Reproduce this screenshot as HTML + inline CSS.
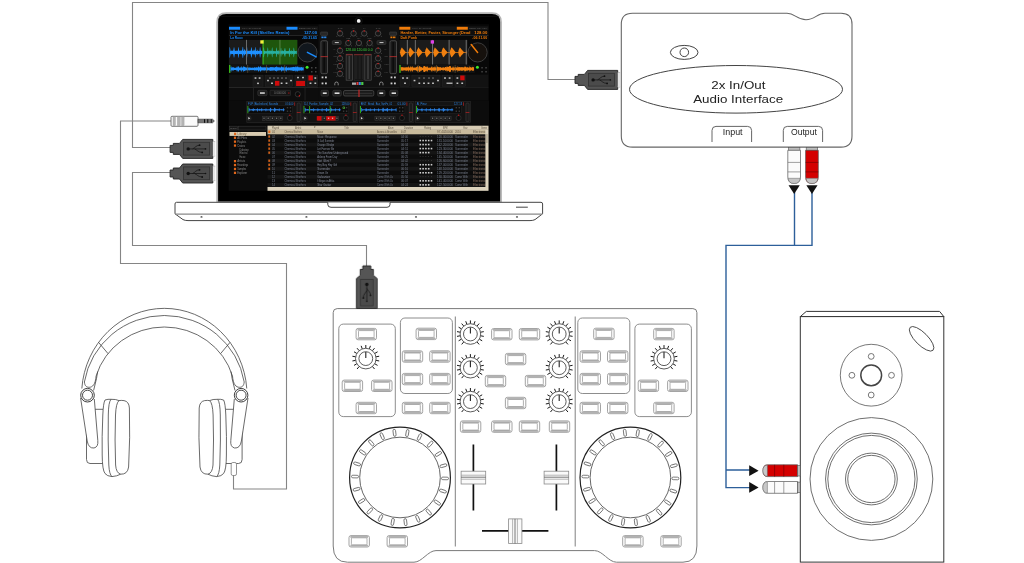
<!DOCTYPE html>
<html><head><meta charset="utf-8"><title>DJ setup diagram</title>
<style>html,body{margin:0;padding:0;background:#fff;width:1024px;height:563px;overflow:hidden;font-family:"Liberation Sans",sans-serif}svg{display:block;will-change:transform}</style>
</head><body>
<svg width="1024" height="563" viewBox="0 0 1024 563" font-family="Liberation Sans, sans-serif"><path d="M171,147.5 H132.5 V2.5 H548 V79.5 H576" fill="none" stroke="#858585" stroke-width="1.1"/><path d="M171,172.5 H132.5 V245.5 H366.5 V267" fill="none" stroke="#858585" stroke-width="1.1"/><path d="M172,121 H120.5 V263.5 H286.5 V489 H233.5 V475" fill="none" stroke="#858585" stroke-width="1.1"/><path d="M794.5,192 V245.4 M812,192 V245.4 H726 V487.6 H750 M726,470 H750" fill="none" stroke="#2d5f9a" stroke-width="1.4"/><path d="M217.2,202.4 V22.2 Q217.2,13.2 226.2,13.2 H492 Q501,13.2 501,22.2 V202.4 Z" fill="#000" stroke="#b4b4b4" stroke-width="1.8"/><circle cx="358.7" cy="20.9" r="3.6" fill="none" stroke="#1c1c1c" stroke-width="0.6"/><circle cx="358.7" cy="20.9" r="1.9" fill="#f4f4f4"/><line x1="219" y1="16.4" x2="499" y2="16.4" stroke="#151515" stroke-width="0.6"/><path d="M176.5,202.3 H541 Q542.6,202.3 542.6,204 V213.8 L535,219.6 Q533,220.6 530,220.6 H188 Q185,220.6 183,219.6 L175,213.8 V204 Q175,202.3 176.5,202.3 Z" fill="#fff" stroke="#444" stroke-width="1"/><line x1="175.5" y1="214.1" x2="542.2" y2="214.1" stroke="#888" stroke-width="1.4"/><path d="M327.8,202.5 V204.5 Q327.8,207.3 331,207.3 H387 Q390,207.3 390,204.5 V202.5" fill="#fff" stroke="#333" stroke-width="0.9"/><line x1="516" y1="207.2" x2="527.8" y2="207.2" stroke="#555" stroke-width="1.1"/><ellipse cx="201.5" cy="216.9" rx="1.1" ry="0.7" fill="#222"/><ellipse cx="306.4" cy="216.9" rx="1.1" ry="0.7" fill="#222"/><ellipse cx="416" cy="216.9" rx="1.1" ry="0.7" fill="#222"/><ellipse cx="517" cy="216.9" rx="1.1" ry="0.7" fill="#222"/><rect x="228.6" y="24.2" width="260.4" height="166.6" fill="#080808"/><rect x="229" y="26.3" width="89" height="3.8" fill="#151515"/><rect x="229" y="26.8" width="11" height="2.9" fill="#1a8cff"/><text x="242" y="29.3" font-size="2.3" fill="#8a8a8a" textLength="19" lengthAdjust="spacingAndGlyphs" opacity="0.6">MIX    SAMPLE</text><rect x="286.5" y="26.8" width="11" height="2.9" fill="#1a8cff"/><text x="299" y="29.3" font-size="2.3" fill="#8a8a8a" textLength="18" lengthAdjust="spacingAndGlyphs" opacity="0.6">BEND    KEY    KEY</text><rect x="229" y="30.2" width="89" height="5" fill="#0e0e0e"/><text x="230.2" y="33.6" font-size="3.9" fill="#1a8cff" textLength="59.3" lengthAdjust="spacingAndGlyphs" font-weight="bold">In For the Kill (Skrillex Remix)</text><text x="317" y="33.6" font-size="3.9" fill="#1a8cff" textLength="13" lengthAdjust="spacingAndGlyphs" text-anchor="end" font-weight="bold">127.00</text><rect x="229" y="35.1" width="89" height="0.6" fill="#3a3a3a"/><text x="230.2" y="38.8" font-size="3.6" fill="#1a8cff" textLength="12.6" lengthAdjust="spacingAndGlyphs" font-weight="bold">La Roux</text><text x="317" y="38.8" font-size="3.6" fill="#1a8cff" textLength="15" lengthAdjust="spacingAndGlyphs" text-anchor="end" font-weight="bold">-05:31.65</text><rect x="229" y="39.9" width="68.3" height="24.7" fill="#1b1b1b"/><rect x="262.8" y="39.9" width="34.5" height="24.7" fill="#1e560c"/><path d="M229.5,47.18 L229.9,47.13 L230.3,49.32 L230.7,51.16 L231.1,50.99 L231.5,50.5 L231.9,50.61 L232.3,50.74 L232.7,50.74 L233.1,50.82 L233.5,49.32 L233.9,47.14 L234.3,47.61 L234.7,50.59 L235.1,50.68 L235.5,50.69 L235.9,50.9 L236.3,50.87 L236.7,50.58 L237.1,51.08 L237.5,50.52 L237.9,50.75 L238.3,47.32 L238.7,47.15 L239.1,50.78 L239.5,50.71 L239.9,50.59 L240.3,50.72 L240.7,50.59 L241.1,50.56 L241.5,50.69 L241.9,50.61 L242.3,49.32 L242.7,46.81 L243.1,46.97 L243.5,50.89 L243.9,50.97 L244.3,49.32 L244.7,49.32 L245.1,50.69 L245.5,50.58 L245.9,50.83 L246.3,49.32 L246.7,47.61 L247.1,47.3 L247.5,50.76 L247.9,51.14 L248.3,50.96 L248.7,50.57 L249.1,50.86 L249.5,50.74 L249.9,50.79 L250.3,50.54 L250.7,50.88 L251.1,47.39 L251.5,47.2 L251.9,49.32 L252.3,50.89 L252.7,51.15 L253.1,49.32 L253.5,50.75 L253.9,50.71 L254.3,50.69 L254.7,49.32 L255.1,50.71 L255.5,47.26 L255.9,47.37 L256.3,50.92 L256.7,50.92 L257.1,50.97 L257.5,49.32 L257.9,50.79 L258.3,50.96 L258.7,50.63 L259.1,51.04 L259.5,50.7 L259.9,47.36 L260.3,47.27 L260.7,50.59 L261.1,50.94 L261.5,50.57 L261.9,51.02 L262.3,50.81 L262.3,53.99 L261.9,53.78 L261.5,54.23 L261.1,53.86 L260.7,54.21 L260.3,57.53 L259.9,57.44 L259.5,54.1 L259.1,53.76 L258.7,54.17 L258.3,53.84 L257.9,54.01 L257.5,55.48 L257.1,53.83 L256.7,53.88 L256.3,53.88 L255.9,57.43 L255.5,57.54 L255.1,54.09 L254.7,55.48 L254.3,54.11 L253.9,54.09 L253.5,54.05 L253.1,55.48 L252.7,53.65 L252.3,53.91 L251.9,55.48 L251.5,57.6 L251.1,57.41 L250.7,53.92 L250.3,54.26 L249.9,54.01 L249.5,54.06 L249.1,53.94 L248.7,54.23 L248.3,53.84 L247.9,53.66 L247.5,54.04 L247.1,57.5 L246.7,57.19 L246.3,55.48 L245.9,53.97 L245.5,54.22 L245.1,54.11 L244.7,55.48 L244.3,55.48 L243.9,53.83 L243.5,53.91 L243.1,57.83 L242.7,57.99 L242.3,55.48 L241.9,54.19 L241.5,54.11 L241.1,54.24 L240.7,54.21 L240.3,54.08 L239.9,54.21 L239.5,54.09 L239.1,54.02 L238.7,57.65 L238.3,57.48 L237.9,54.05 L237.5,54.28 L237.1,53.72 L236.7,54.22 L236.3,53.93 L235.9,53.9 L235.5,54.11 L235.1,54.12 L234.7,54.21 L234.3,57.19 L233.9,57.66 L233.5,55.48 L233.1,53.98 L232.7,54.06 L232.3,54.06 L231.9,54.19 L231.5,54.3 L231.1,53.81 L230.7,53.64 L230.3,55.48 L229.9,57.67 L229.5,57.62 Z" fill="#1e90ff"/><path d="M263.2,47.43 L263.6,47.62 L264,47.96 L264.4,50.7 L264.8,50.91 L265.2,51.03 L265.6,51.18 L266,51.25 L266.4,51.29 L266.8,51.06 L267.2,51.07 L267.6,47.41 L268,47.68 L268.4,51.07 L268.8,51.1 L269.2,51 L269.6,50.76 L270,49.65 L270.4,50.73 L270.8,51.18 L271.2,50.95 L271.6,50.77 L272,47.49 L272.4,47.58 L272.8,51.24 L273.2,50.88 L273.6,50.79 L274,51.18 L274.4,50.98 L274.8,51.26 L275.2,51 L275.6,51.17 L276,51.29 L276.4,47.83 L276.8,47.52 L277.2,50.77 L277.6,51.06 L278,50.9 L278.4,51.18 L278.8,49.65 L279.2,50.84 L279.6,51.2 L280,51.16 L280.4,51.03 L280.8,47.93 L281.2,48.09 L281.6,51.24 L282,51.08 L282.4,51 L282.8,49.65 L283.2,51.29 L283.6,51.07 L284,50.85 L284.4,49.65 L284.8,47.99 L285.2,48.13 L285.6,50.72 L286,50.71 L286.4,51.19 L286.8,51.04 L287.2,50.94 L287.6,51.02 L288,51.23 L288.4,51.03 L288.8,51.04 L289.2,47.8 L289.6,47.88 L290,51.16 L290.4,51.03 L290.8,50.86 L291.2,49.65 L291.6,51.08 L292,51.24 L292.4,50.85 L292.8,50.88 L293.2,51.16 L293.6,47.66 L294,47.69 L294.4,50.75 L294.8,50.74 L295.2,51.17 L295.6,50.97 L296,51.08 L296.4,50.79 L296.8,50.92 L296.8,53.88 L296.4,54.01 L296,53.72 L295.6,53.83 L295.2,53.63 L294.8,54.06 L294.4,54.05 L294,57.11 L293.6,57.14 L293.2,53.64 L292.8,53.92 L292.4,53.95 L292,53.56 L291.6,53.72 L291.2,55.15 L290.8,53.94 L290.4,53.77 L290,53.64 L289.6,56.92 L289.2,57 L288.8,53.76 L288.4,53.77 L288,53.57 L287.6,53.78 L287.2,53.86 L286.8,53.76 L286.4,53.61 L286,54.09 L285.6,54.08 L285.2,56.67 L284.8,56.81 L284.4,55.15 L284,53.95 L283.6,53.73 L283.2,53.51 L282.8,55.15 L282.4,53.8 L282,53.72 L281.6,53.56 L281.2,56.71 L280.8,56.87 L280.4,53.77 L280,53.64 L279.6,53.6 L279.2,53.96 L278.8,55.15 L278.4,53.62 L278,53.9 L277.6,53.74 L277.2,54.03 L276.8,57.28 L276.4,56.97 L276,53.51 L275.6,53.63 L275.2,53.8 L274.8,53.54 L274.4,53.82 L274,53.62 L273.6,54.01 L273.2,53.92 L272.8,53.56 L272.4,57.22 L272,57.31 L271.6,54.03 L271.2,53.85 L270.8,53.62 L270.4,54.07 L270,55.15 L269.6,54.04 L269.2,53.8 L268.8,53.7 L268.4,53.73 L268,57.12 L267.6,57.39 L267.2,53.73 L266.8,53.74 L266.4,53.51 L266,53.55 L265.6,53.62 L265.2,53.77 L264.8,53.89 L264.4,54.1 L264,56.84 L263.6,57.18 L263.2,57.37 Z" fill="#27b0a0"/><rect x="246" y="39.9" width="0.9" height="24.7" fill="#777"/><rect x="262.6" y="39.9" width="0.9" height="24.7" fill="#3ccf1c"/><rect x="279.5" y="39.9" width="0.9" height="24.7" fill="#5c8c4c"/><rect x="260.3" y="40.3" width="3.3" height="3.3" fill="#f2f23a"/><circle cx="307.4" cy="52.4" r="9.6" fill="#11171d" stroke="#3c3c3c" stroke-width="1"/><line x1="307.4" y1="52.4" x2="316.2" y2="56.8" stroke="#1a8cff" stroke-width="1.5" stroke-linecap="round"/><rect x="229" y="64.9" width="75.5" height="8" fill="#131313"/><rect x="229" y="64.9" width="1.4" height="8" fill="#39b81a"/><path d="M230.5,67.35 L231.1,65.9 L231.7,67.84 L232.3,67.56 L232.9,67.12 L233.5,67.26 L234.1,67.7 L234.7,67.68 L235.3,67.79 L235.9,67.77 L236.5,67.5 L237.1,65.9 L237.7,67.79 L238.3,65.9 L238.9,66.81 L239.5,67.73 L240.1,67.71 L240.7,67.2 L241.3,65.9 L241.9,67.67 L242.5,67.43 L243.1,67.22 L243.7,65.9 L244.3,67.09 L244.9,66.82 L245.5,67.48 L246.1,67.13 L246.7,67.73 L247.3,67.47 L247.9,67 L248.5,67.82 L249.1,67.4 L249.7,67.62 L250.3,67.44 L250.9,67.74 L251.5,67.66 L252.1,67.81 L252.7,67.49 L253.3,67.8 L253.9,67.63 L254.5,67.35 L255.1,67.34 L255.7,67.67 L256.3,67.47 L256.9,67.06 L257.5,67.84 L258.1,67.04 L258.7,65.9 L259.3,67.81 L259.9,66.82 L260.5,65.9 L261.1,67.51 L261.7,66.98 L262.3,67.61 L262.9,67.35 L263.5,67.57 L264.1,66.91 L264.7,67.54 L265.3,67.56 L265.9,67.31 L266.5,67.11 L267.1,67.55 L267.7,67.13 L268.3,67.71 L268.9,67.41 L269.5,67.39 L270.1,67.26 L270.7,66.88 L271.3,67.05 L271.9,67.23 L272.5,67.02 L273.1,67.49 L273.7,67.08 L274.3,67.83 L274.9,66.9 L275.5,66.91 L276.1,67.29 L276.7,65.9 L277.3,67.48 L277.9,66.87 L278.5,67.28 L279.1,67.72 L279.7,67.11 L280.3,67.59 L280.9,67.51 L281.5,65.9 L282.1,67.52 L282.7,67.05 L283.3,66.87 L283.9,67.82 L284.5,67.38 L285.1,67.15 L285.7,67.6 L286.3,65.9 L286.9,67.47 L287.5,67.64 L288.1,67.62 L288.7,67.32 L289.3,67.68 L289.9,67.21 L290.5,67.59 L291.1,66.95 L291.7,67.61 L292.3,67.05 L292.9,67.14 L293.5,66.83 L294.1,67.14 L294.7,67.08 L295.3,67.33 L295.9,65.9 L296.5,67.61 L297.1,65.9 L297.7,67.01 L298.3,66.87 L298.9,67.44 L299.5,66.91 L300.1,67.72 L300.7,66.97 L301.3,67.03 L301.9,67.2 L302.5,67.42 L303.1,67.45 L303.7,67 L303.7,70.8 L303.1,70.35 L302.5,70.38 L301.9,70.6 L301.3,70.77 L300.7,70.83 L300.1,70.08 L299.5,70.89 L298.9,70.36 L298.3,70.93 L297.7,70.79 L297.1,71.9 L296.5,70.19 L295.9,71.9 L295.3,70.47 L294.7,70.72 L294.1,70.66 L293.5,70.97 L292.9,70.66 L292.3,70.75 L291.7,70.19 L291.1,70.85 L290.5,70.21 L289.9,70.59 L289.3,70.12 L288.7,70.48 L288.1,70.18 L287.5,70.16 L286.9,70.33 L286.3,71.9 L285.7,70.2 L285.1,70.65 L284.5,70.42 L283.9,69.98 L283.3,70.93 L282.7,70.75 L282.1,70.28 L281.5,71.9 L280.9,70.29 L280.3,70.21 L279.7,70.69 L279.1,70.08 L278.5,70.52 L277.9,70.93 L277.3,70.32 L276.7,71.9 L276.1,70.51 L275.5,70.89 L274.9,70.9 L274.3,69.97 L273.7,70.72 L273.1,70.31 L272.5,70.78 L271.9,70.57 L271.3,70.75 L270.7,70.92 L270.1,70.54 L269.5,70.41 L268.9,70.39 L268.3,70.09 L267.7,70.67 L267.1,70.25 L266.5,70.69 L265.9,70.49 L265.3,70.24 L264.7,70.26 L264.1,70.89 L263.5,70.23 L262.9,70.45 L262.3,70.19 L261.7,70.82 L261.1,70.29 L260.5,71.9 L259.9,70.98 L259.3,69.99 L258.7,71.9 L258.1,70.76 L257.5,69.96 L256.9,70.74 L256.3,70.33 L255.7,70.13 L255.1,70.46 L254.5,70.45 L253.9,70.17 L253.3,70 L252.7,70.31 L252.1,69.99 L251.5,70.14 L250.9,70.06 L250.3,70.36 L249.7,70.18 L249.1,70.4 L248.5,69.98 L247.9,70.8 L247.3,70.33 L246.7,70.07 L246.1,70.67 L245.5,70.32 L244.9,70.98 L244.3,70.71 L243.7,71.9 L243.1,70.58 L242.5,70.37 L241.9,70.13 L241.3,71.9 L240.7,70.6 L240.1,70.09 L239.5,70.07 L238.9,70.99 L238.3,71.9 L237.7,70.01 L237.1,71.9 L236.5,70.3 L235.9,70.03 L235.3,70.01 L234.7,70.12 L234.1,70.1 L233.5,70.54 L232.9,70.68 L232.3,70.24 L231.7,69.96 L231.1,71.9 L230.5,70.45 Z" fill="#1e90ff"/><rect x="247.5" y="64.9" width="0.6" height="8" fill="#6a5a3a"/><rect x="266" y="64.9" width="0.6" height="8" fill="#6a5a3a"/><rect x="284.5" y="64.9" width="0.6" height="8" fill="#6a5a3a"/><circle cx="307.1" cy="67.2" r="1.5" fill="#3ee82a"/><rect x="311" y="67" width="1.5" height="1.5" fill="#444"/><rect x="315" y="67" width="1.5" height="1.5" fill="#444"/><rect x="311" y="71" width="1.5" height="1.5" fill="#444"/><rect x="315" y="71" width="1.5" height="1.5" fill="#444"/><rect x="229" y="74.6" width="89" height="12.4" fill="#121212"/><rect x="253" y="75.2" width="10" height="11" fill="#191919" stroke="#262626" stroke-width="0.5"/><rect x="265.7" y="75.2" width="22.6" height="11" fill="#191919" stroke="#262626" stroke-width="0.5"/><rect x="289.6" y="75.2" width="3" height="11" fill="#191919" stroke="#262626" stroke-width="0.5"/><rect x="295" y="75.2" width="11" height="11" fill="#191919" stroke="#262626" stroke-width="0.5"/><rect x="307.4" y="75.2" width="10" height="11" fill="#191919" stroke="#262626" stroke-width="0.5"/><rect x="254.6" y="77.3" width="1.8" height="1.5" fill="#c4c4c4"/><rect x="258.7" y="77.3" width="1.8" height="1.5" fill="#c4c4c4"/><rect x="257.1" y="82.6" width="1.8" height="1.5" fill="#c4c4c4"/><rect x="271.1" y="82.5" width="1.8" height="1.5" fill="#c4c4c4"/><rect x="280.7" y="82.5" width="1.8" height="1.5" fill="#c4c4c4"/><rect x="285.6" y="82.5" width="1.8" height="1.5" fill="#c4c4c4"/><rect x="290.1" y="79.8" width="1.8" height="1.5" fill="#c4c4c4"/><rect x="297.1" y="76.8" width="1.8" height="1.5" fill="#c4c4c4"/><rect x="302.1" y="76.8" width="1.8" height="1.5" fill="#c4c4c4"/><rect x="314.4" y="77.3" width="1.8" height="1.5" fill="#c4c4c4"/><rect x="309.6" y="82.5" width="1.8" height="1.5" fill="#c4c4c4"/><rect x="314.4" y="82.5" width="1.8" height="1.5" fill="#c4c4c4"/><rect x="267.1" y="79.8" width="1.8" height="1.5" fill="#c4c4c4"/><rect x="269.1" y="77.4" width="1.8" height="1.3" fill="#6a6a6a"/><rect x="273.1" y="77.4" width="1.8" height="1.3" fill="#6a6a6a"/><rect x="277.1" y="77.4" width="1.8" height="1.3" fill="#6a6a6a"/><rect x="281.1" y="77.4" width="1.8" height="1.3" fill="#6a6a6a"/><rect x="285.1" y="77.4" width="1.8" height="1.3" fill="#6a6a6a"/><rect x="275" y="80.9" width="4.4" height="4.8" fill="#cf0b0b"/><rect x="296.1" y="80.9" width="8.9" height="5.1" fill="#cf0b0b"/><rect x="308.4" y="75.4" width="4.5" height="5.1" fill="#cf0b0b"/><rect x="229" y="87" width="89" height="0.7" fill="#2c2c2c"/><rect x="229" y="87.7" width="89" height="13" fill="#0d0d0d"/><rect x="253.2" y="87.7" width="0.7" height="13" fill="#2a2a2a"/><rect x="257.8" y="90.3" width="9.2" height="5.4" rx="1.2" fill="#1e1e1e" stroke="#3a3a3a" stroke-width="0.6"/><rect x="260" y="92.3" width="4.8" height="1.5" fill="#ddd"/><rect x="270" y="90.3" width="20.5" height="5.4" rx="0.8" fill="#151515" stroke="#333" stroke-width="0.6"/><text x="274" y="94.3" font-size="2.8" fill="#777" textLength="12" lengthAdjust="spacingAndGlyphs">0.000000</text><rect x="288.5" y="92.3" width="0.8" height="1.5" fill="#c11"/><circle cx="297.8" cy="94.2" r="2.6" fill="#0b0b0b" stroke="#444" stroke-width="0.6"/><rect x="298.8" y="95.2" width="1.2" height="1.2" fill="#e01010"/><rect x="304.7" y="87.7" width="0.7" height="13" fill="#2a2a2a"/><rect x="399.3" y="26.3" width="89" height="3.8" fill="#151515"/><rect x="399.3" y="26.8" width="11" height="2.9" fill="#f07c0a"/><text x="412.3" y="29.3" font-size="2.3" fill="#8a8a8a" textLength="19" lengthAdjust="spacingAndGlyphs" opacity="0.6">MIX    SAMPLE</text><rect x="456.8" y="26.8" width="11" height="2.9" fill="#f07c0a"/><text x="469.3" y="29.3" font-size="2.3" fill="#8a8a8a" textLength="18" lengthAdjust="spacingAndGlyphs" opacity="0.6">BEND    KEY    KEY</text><rect x="399.3" y="30.2" width="89" height="5" fill="#0e0e0e"/><text x="400.5" y="33.6" font-size="3.9" fill="#f07c0a" textLength="70" lengthAdjust="spacingAndGlyphs" font-weight="bold">Harder, Better, Faster, Stronger (Dead</text><text x="487.3" y="33.6" font-size="3.9" fill="#f07c0a" textLength="13" lengthAdjust="spacingAndGlyphs" text-anchor="end" font-weight="bold">128.00</text><rect x="399.3" y="35.1" width="89" height="0.6" fill="#3a3a3a"/><text x="400.5" y="38.8" font-size="3.6" fill="#f07c0a" textLength="16.5" lengthAdjust="spacingAndGlyphs" font-weight="bold">Daft Punk</text><text x="487.3" y="38.8" font-size="3.6" fill="#f07c0a" textLength="15" lengthAdjust="spacingAndGlyphs" text-anchor="end" font-weight="bold">-06:11.00</text><rect x="399.3" y="39.9" width="68.3" height="24.7" fill="#1b1b1b"/><path d="M399.8,51.99 L400.1,51.99 L400.4,50.31 L400.7,49.68 L401,48.96 L401.3,48.23 L401.6,47.68 L401.9,47.54 L402.2,47.85 L402.5,48.14 L402.8,48.72 L403.1,49 L403.4,49.4 L403.7,49.57 L404,49.95 L404.3,50.42 L404.6,50.62 L404.9,50.99 L405.2,51.38 L405.5,51.73 L405.8,52.1 L406.1,52.01 L406.4,51.99 L406.7,52.01 L407,52 L407.3,52 L407.6,52.01 L407.9,51.99 L408.2,51.99 L408.5,51.98 L408.8,50.14 L409.1,49.4 L409.4,48.73 L409.7,47.96 L410,47.33 L410.3,47.75 L410.6,47.83 L410.9,48.19 L411.2,48.61 L411.5,49 L411.8,49.45 L412.1,49.82 L412.4,50.15 L412.7,50.53 L413,50.77 L413.3,51.17 L413.6,51.48 L413.9,51.86 L414.2,51.98 L414.5,51.98 L414.8,52.01 L415.1,52 L415.4,51.98 L415.7,51.99 L416,51.98 L416.3,52 L416.6,52.01 L416.9,50.6 L417.2,49.85 L417.5,49.26 L417.8,48.63 L418.1,47.85 L418.4,47.24 L418.7,47.68 L419,48.26 L419.3,48.56 L419.6,48.95 L419.9,49.29 L420.2,49.45 L420.5,49.94 L420.8,50.21 L421.1,50.58 L421.4,50.96 L421.7,51.25 L422,51.65 L422.3,51.97 L422.6,52.01 L422.9,52 L423.2,52 L423.5,52 L423.8,51.98 L424.1,51.98 L424.4,52 L424.7,51.98 L425,52 L425.3,50.4 L425.6,49.59 L425.9,48.93 L426.2,48.39 L426.5,47.35 L426.8,47.66 L427.1,47.99 L427.4,48.15 L427.7,48.65 L428,49 L428.3,49.4 L428.6,49.74 L428.9,49.97 L429.2,50.38 L429.5,50.68 L429.8,51.05 L430.1,51.39 L430.4,51.71 L430.7,52.09 L431,51.99 L431.3,51.98 L431.6,52 L431.9,52 L432.2,51.98 L432.5,51.98 L432.8,52 L433.1,52 L433.4,51.98 L433.7,50.06 L434,49.51 L434.3,48.59 L434.6,47.88 L434.9,47.27 L435.2,47.69 L435.5,48.16 L435.8,48.52 L436.1,48.57 L436.4,49.13 L436.7,49.36 L437,49.81 L437.3,50.05 L437.6,50.44 L437.9,50.83 L438.2,51.19 L438.5,51.49 L438.8,51.87 L439.1,52 L439.4,51.99 L439.7,51.98 L440,51.99 L440.3,52 L440.6,51.98 L440.9,52 L441.2,52.01 L441.5,52 L441.8,50.63 L442.1,50 L442.4,49.29 L442.7,48.54 L443,47.76 L443.3,47.58 L443.6,47.83 L443.9,47.99 L444.2,48.32 L444.5,48.78 L444.8,49.12 L445.1,49.5 L445.4,49.95 L445.7,50.31 L446,50.65 L446.3,50.87 L446.6,51.25 L446.9,51.59 L447.2,51.99 L447.5,51.99 L447.8,51.99 L448.1,51.99 L448.4,52 L448.7,51.98 L449,52.01 L449.3,51.99 L449.6,51.98 L449.9,51.98 L450.2,50.34 L450.5,49.63 L450.8,48.88 L451.1,48.11 L451.4,47.61 L451.7,47.47 L452,47.74 L452.3,48.12 L452.6,48.62 L452.9,48.86 L453.2,49.2 L453.5,49.62 L453.8,49.97 L454.1,50.36 L454.4,50.68 L454.7,51.03 L455,51.42 L455.3,51.73 L455.6,52.07 L455.9,51.98 L456.2,51.99 L456.5,52 L456.8,51.98 L457.1,51.99 L457.4,51.99 L457.7,51.98 L458,52.01 L458.3,51.98 L458.6,50.24 L458.9,49.41 L459.2,48.74 L459.5,48.12 L459.8,47.23 L460.1,47.66 L460.4,47.97 L460.7,48.22 L461,48.78 L461.3,49.2 L461.6,49.46 L461.9,49.72 L462.2,50.16 L462.5,50.51 L462.8,50.75 L463.1,51.14 L463.4,51.51 L463.7,51.84 L464,52 L464.3,51.99 L464.6,52 L464.9,52 L465.2,51.98 L465.5,51.98 L465.8,51.98 L466.1,52 L466.4,51.99 L466.7,50.65 L467,49.99 L467,54.81 L466.7,54.15 L466.4,52.81 L466.1,52.8 L465.8,52.82 L465.5,52.82 L465.2,52.82 L464.9,52.8 L464.6,52.8 L464.3,52.81 L464,52.8 L463.7,52.96 L463.4,53.29 L463.1,53.66 L462.8,54.05 L462.5,54.29 L462.2,54.64 L461.9,55.08 L461.6,55.34 L461.3,55.6 L461,56.02 L460.7,56.58 L460.4,56.83 L460.1,57.14 L459.8,57.57 L459.5,56.68 L459.2,56.06 L458.9,55.39 L458.6,54.56 L458.3,52.82 L458,52.79 L457.7,52.82 L457.4,52.81 L457.1,52.81 L456.8,52.82 L456.5,52.8 L456.2,52.81 L455.9,52.82 L455.6,52.73 L455.3,53.07 L455,53.38 L454.7,53.77 L454.4,54.12 L454.1,54.44 L453.8,54.83 L453.5,55.18 L453.2,55.6 L452.9,55.94 L452.6,56.18 L452.3,56.68 L452,57.06 L451.7,57.33 L451.4,57.19 L451.1,56.69 L450.8,55.92 L450.5,55.17 L450.2,54.46 L449.9,52.82 L449.6,52.82 L449.3,52.81 L449,52.79 L448.7,52.82 L448.4,52.8 L448.1,52.81 L447.8,52.81 L447.5,52.81 L447.2,52.81 L446.9,53.21 L446.6,53.55 L446.3,53.93 L446,54.15 L445.7,54.49 L445.4,54.85 L445.1,55.3 L444.8,55.68 L444.5,56.02 L444.2,56.48 L443.9,56.81 L443.6,56.97 L443.3,57.22 L443,57.04 L442.7,56.26 L442.4,55.51 L442.1,54.8 L441.8,54.17 L441.5,52.8 L441.2,52.79 L440.9,52.8 L440.6,52.82 L440.3,52.8 L440,52.81 L439.7,52.82 L439.4,52.81 L439.1,52.8 L438.8,52.93 L438.5,53.31 L438.2,53.61 L437.9,53.97 L437.6,54.36 L437.3,54.75 L437,54.99 L436.7,55.44 L436.4,55.67 L436.1,56.23 L435.8,56.28 L435.5,56.64 L435.2,57.11 L434.9,57.53 L434.6,56.92 L434.3,56.21 L434,55.29 L433.7,54.74 L433.4,52.82 L433.1,52.8 L432.8,52.8 L432.5,52.82 L432.2,52.82 L431.9,52.8 L431.6,52.8 L431.3,52.82 L431,52.81 L430.7,52.71 L430.4,53.09 L430.1,53.41 L429.8,53.75 L429.5,54.12 L429.2,54.42 L428.9,54.83 L428.6,55.06 L428.3,55.4 L428,55.8 L427.7,56.15 L427.4,56.65 L427.1,56.81 L426.8,57.14 L426.5,57.45 L426.2,56.41 L425.9,55.87 L425.6,55.21 L425.3,54.4 L425,52.8 L424.7,52.82 L424.4,52.8 L424.1,52.82 L423.8,52.82 L423.5,52.8 L423.2,52.8 L422.9,52.8 L422.6,52.79 L422.3,52.83 L422,53.15 L421.7,53.55 L421.4,53.84 L421.1,54.22 L420.8,54.59 L420.5,54.86 L420.2,55.35 L419.9,55.51 L419.6,55.85 L419.3,56.24 L419,56.54 L418.7,57.12 L418.4,57.56 L418.1,56.95 L417.8,56.17 L417.5,55.54 L417.2,54.95 L416.9,54.2 L416.6,52.79 L416.3,52.8 L416,52.82 L415.7,52.81 L415.4,52.82 L415.1,52.8 L414.8,52.79 L414.5,52.82 L414.2,52.82 L413.9,52.94 L413.6,53.32 L413.3,53.63 L413,54.03 L412.7,54.27 L412.4,54.65 L412.1,54.98 L411.8,55.35 L411.5,55.8 L411.2,56.19 L410.9,56.61 L410.6,56.97 L410.3,57.05 L410,57.47 L409.7,56.84 L409.4,56.07 L409.1,55.4 L408.8,54.66 L408.5,52.82 L408.2,52.81 L407.9,52.81 L407.6,52.79 L407.3,52.8 L407,52.8 L406.7,52.79 L406.4,52.81 L406.1,52.79 L405.8,52.7 L405.5,53.07 L405.2,53.42 L404.9,53.81 L404.6,54.18 L404.3,54.38 L404,54.85 L403.7,55.23 L403.4,55.4 L403.1,55.8 L402.8,56.08 L402.5,56.66 L402.2,56.95 L401.9,57.26 L401.6,57.12 L401.3,56.57 L401,55.84 L400.7,55.12 L400.4,54.49 L400.1,52.81 L399.8,52.81 Z" fill="#f08010"/><rect x="406.85" y="39.9" width="0.9" height="24.7" fill="#7a7a7a"/><rect x="414.85" y="39.9" width="0.9" height="24.7" fill="#7a7a7a"/><rect x="432.15" y="39.9" width="0.9" height="24.7" fill="#7a7a7a"/><rect x="448.65" y="39.9" width="0.9" height="24.7" fill="#7a7a7a"/><rect x="465.75" y="39.9" width="0.9" height="24.7" fill="#7a7a7a"/><rect x="430.7" y="40.3" width="3.3" height="3.3" fill="#e040e8"/><circle cx="477.6" cy="52.4" r="9.6" fill="#16110d" stroke="#3c3c3c" stroke-width="1"/><line x1="477.6" y1="52.4" x2="471.2" y2="44.6" stroke="#f07c0a" stroke-width="1.5" stroke-linecap="round"/><rect x="399.3" y="64.9" width="75.5" height="8" fill="#131313"/><rect x="399.3" y="64.9" width="1.4" height="8" fill="#39b81a"/><path d="M400.8,66.9 L401.4,67.05 L402,67.58 L402.6,66.9 L403.2,67.25 L403.8,67.42 L404.4,67.74 L405,66.85 L405.6,67.63 L406.2,66.9 L406.8,67.4 L407.4,67 L408,67.76 L408.6,65.9 L409.2,67.65 L409.8,67.55 L410.4,65.9 L411,67.83 L411.6,66.95 L412.2,65.9 L412.8,67.17 L413.4,67.71 L414,67.22 L414.6,67.69 L415.2,67.27 L415.8,67.68 L416.4,66.94 L417,66.8 L417.6,65.9 L418.2,67.21 L418.8,67.39 L419.4,65.9 L420,65.9 L420.6,67.17 L421.2,67.08 L421.8,67.29 L422.4,67.79 L423,67.73 L423.6,65.9 L424.2,65.9 L424.8,65.9 L425.4,67.15 L426,65.9 L426.6,67.62 L427.2,65.9 L427.8,67.15 L428.4,67.71 L429,67.72 L429.6,67.44 L430.2,67.64 L430.8,67.53 L431.4,66.92 L432,65.9 L432.6,67.65 L433.2,67.42 L433.8,66.9 L434.4,67.47 L435,65.9 L435.6,67.56 L436.2,67.46 L436.8,67.43 L437.4,65.9 L438,67.24 L438.6,66.89 L439.2,67.29 L439.8,67.28 L440.4,67.1 L441,67.54 L441.6,67.75 L442.2,67.81 L442.8,67.2 L443.4,67.22 L444,67.47 L444.6,67.8 L445.2,66.93 L445.8,66.95 L446.4,67.58 L447,65.9 L447.6,66.94 L448.2,67.04 L448.8,66.81 L449.4,65.9 L450,65.9 L450.6,65.9 L451.2,67.73 L451.8,67.7 L452.4,67.84 L453,65.9 L453.6,67.61 L454.2,67.59 L454.8,67.44 L455.4,67.11 L456,67.21 L456.6,67.54 L457.2,67.76 L457.8,65.9 L458.4,67.16 L459,67.34 L459.6,66.9 L460.2,67.19 L460.8,67.18 L461.4,67.13 L462,67.06 L462.6,67.17 L463.2,67.46 L463.8,67.32 L464.4,67.36 L465,65.9 L465.6,66.93 L466.2,66.89 L466.8,67.67 L467.4,66.8 L468,67.76 L468.6,67.75 L469.2,65.9 L469.8,67.8 L470.4,67.1 L471,67.15 L471.6,67.71 L472.2,67.32 L472.8,66.84 L473.4,67.13 L474,67.34 L474,70.46 L473.4,70.67 L472.8,70.96 L472.2,70.48 L471.6,70.09 L471,70.65 L470.4,70.7 L469.8,70 L469.2,71.9 L468.6,70.05 L468,70.04 L467.4,71 L466.8,70.13 L466.2,70.91 L465.6,70.87 L465,71.9 L464.4,70.44 L463.8,70.48 L463.2,70.34 L462.6,70.63 L462,70.74 L461.4,70.67 L460.8,70.62 L460.2,70.61 L459.6,70.9 L459,70.46 L458.4,70.64 L457.8,71.9 L457.2,70.04 L456.6,70.26 L456,70.59 L455.4,70.69 L454.8,70.36 L454.2,70.21 L453.6,70.19 L453,71.9 L452.4,69.96 L451.8,70.1 L451.2,70.07 L450.6,71.9 L450,71.9 L449.4,71.9 L448.8,70.99 L448.2,70.76 L447.6,70.86 L447,71.9 L446.4,70.22 L445.8,70.85 L445.2,70.87 L444.6,70 L444,70.33 L443.4,70.58 L442.8,70.6 L442.2,69.99 L441.6,70.05 L441,70.26 L440.4,70.7 L439.8,70.52 L439.2,70.51 L438.6,70.91 L438,70.56 L437.4,71.9 L436.8,70.37 L436.2,70.34 L435.6,70.24 L435,71.9 L434.4,70.33 L433.8,70.9 L433.2,70.38 L432.6,70.15 L432,71.9 L431.4,70.88 L430.8,70.27 L430.2,70.16 L429.6,70.36 L429,70.08 L428.4,70.09 L427.8,70.65 L427.2,71.9 L426.6,70.18 L426,71.9 L425.4,70.65 L424.8,71.9 L424.2,71.9 L423.6,71.9 L423,70.07 L422.4,70.01 L421.8,70.51 L421.2,70.72 L420.6,70.63 L420,71.9 L419.4,71.9 L418.8,70.41 L418.2,70.59 L417.6,71.9 L417,71 L416.4,70.86 L415.8,70.12 L415.2,70.53 L414.6,70.11 L414,70.58 L413.4,70.09 L412.8,70.63 L412.2,71.9 L411.6,70.85 L411,69.97 L410.4,71.9 L409.8,70.25 L409.2,70.15 L408.6,71.9 L408,70.04 L407.4,70.8 L406.8,70.4 L406.2,70.9 L405.6,70.17 L405,70.95 L404.4,70.06 L403.8,70.38 L403.2,70.55 L402.6,70.9 L402,70.22 L401.4,70.75 L400.8,70.9 Z" fill="#f08010"/><rect x="417.8" y="64.9" width="0.6" height="8" fill="#6a5a3a"/><rect x="436.3" y="64.9" width="0.6" height="8" fill="#6a5a3a"/><rect x="454.8" y="64.9" width="0.6" height="8" fill="#6a5a3a"/><circle cx="477.4" cy="67.2" r="1.5" fill="#3ee82a"/><rect x="481.3" y="67" width="1.5" height="1.5" fill="#444"/><rect x="485.3" y="67" width="1.5" height="1.5" fill="#444"/><rect x="481.3" y="71" width="1.5" height="1.5" fill="#444"/><rect x="485.3" y="71" width="1.5" height="1.5" fill="#444"/><rect x="399.3" y="74.6" width="89" height="12.4" fill="#121212"/><rect x="400" y="75.2" width="9.2" height="11" fill="#191919" stroke="#262626" stroke-width="0.5"/><rect x="411.9" y="75.2" width="28.1" height="11" fill="#191919" stroke="#262626" stroke-width="0.5"/><rect x="442.2" y="75.2" width="10.5" height="11" fill="#191919" stroke="#262626" stroke-width="0.5"/><rect x="455" y="75.2" width="10.5" height="11" fill="#191919" stroke="#262626" stroke-width="0.5"/><rect x="402.1" y="77.3" width="1.8" height="1.5" fill="#c4c4c4"/><rect x="406.3" y="77.3" width="1.8" height="1.5" fill="#c4c4c4"/><rect x="404.1" y="82.5" width="1.8" height="1.5" fill="#c4c4c4"/><rect x="418.4" y="82.5" width="1.8" height="1.5" fill="#c4c4c4"/><rect x="423.1" y="82.5" width="1.8" height="1.5" fill="#c4c4c4"/><rect x="427.6" y="82.5" width="1.8" height="1.5" fill="#c4c4c4"/><rect x="432.1" y="82.5" width="1.8" height="1.5" fill="#c4c4c4"/><rect x="413.6" y="79.8" width="1.8" height="1.5" fill="#c4c4c4"/><rect x="437.1" y="79.8" width="1.8" height="1.5" fill="#c4c4c4"/><rect x="444.1" y="77.3" width="1.8" height="1.5" fill="#c4c4c4"/><rect x="448.7" y="77.3" width="1.8" height="1.5" fill="#c4c4c4"/><rect x="456.5" y="77.3" width="1.8" height="1.5" fill="#c4c4c4"/><rect x="456.5" y="82.5" width="1.8" height="1.5" fill="#c4c4c4"/><rect x="461.3" y="82.5" width="1.8" height="1.5" fill="#c4c4c4"/><rect x="418.4" y="77.4" width="1.8" height="1.3" fill="#6a6a6a"/><rect x="423.1" y="77.4" width="1.8" height="1.3" fill="#6a6a6a"/><rect x="428.1" y="77.4" width="1.8" height="1.3" fill="#6a6a6a"/><rect x="432.1" y="77.4" width="1.8" height="1.3" fill="#6a6a6a"/><rect x="460.2" y="75.5" width="4.4" height="4.8" fill="#cf0b0b"/><rect x="446.5" y="82.5" width="6" height="1.5" fill="#aaa"/><rect x="399.3" y="87" width="89" height="0.7" fill="#2c2c2c"/><rect x="399.3" y="87.7" width="89" height="13" fill="#0d0d0d"/><rect x="318.5" y="24.5" width="80.5" height="76" fill="#111"/><rect x="320.6" y="32" width="7" height="3.4" rx="0.8" fill="#262626" stroke="#4a4a4a" stroke-width="0.5"/><g fill="#2a86e6" opacity="1"><rect x="321.4" y="36.5" width="2.23" height="1.7"/><rect x="324.13" y="36.5" width="2.16" height="1.7"/><rect x="326.79" y="36.5" width="0.11" height="1.7"/></g><rect x="320.9" y="40.7" width="6.6" height="33" rx="1.5" fill="#1a1a1a" stroke="#5a5a5a" stroke-width="0.7"/><rect x="323.4" y="42" width="1.6" height="30.5" fill="#0c0c0c"/><rect x="320.6" y="56.3" width="7.4" height="0.8" fill="#c03030"/><rect x="321.6" y="76.5" width="1.8" height="1.8" fill="#cfcfcf"/><rect x="325" y="76.5" width="1.8" height="1.8" fill="#cfcfcf"/><rect x="321.6" y="82.5" width="1.8" height="1.8" fill="#cfcfcf"/><rect x="325" y="82.5" width="1.8" height="1.8" fill="#cfcfcf"/><rect x="389.6" y="32" width="7" height="3.4" rx="0.8" fill="#262626" stroke="#4a4a4a" stroke-width="0.5"/><g fill="#e07a10" opacity="1"><rect x="390.4" y="36.5" width="1.96" height="1.7"/><rect x="392.86" y="36.5" width="2.1" height="1.7"/><rect x="395.46" y="36.5" width="0.44" height="1.7"/></g><rect x="389.9" y="40.7" width="6.6" height="33" rx="1.5" fill="#1a1a1a" stroke="#5a5a5a" stroke-width="0.7"/><rect x="392.4" y="42" width="1.6" height="30.5" fill="#0c0c0c"/><rect x="389.6" y="56.3" width="7.4" height="0.8" fill="#c03030"/><rect x="390.6" y="76.5" width="1.8" height="1.8" fill="#cfcfcf"/><rect x="394" y="76.5" width="1.8" height="1.8" fill="#cfcfcf"/><rect x="390.6" y="82.5" width="1.8" height="1.8" fill="#cfcfcf"/><rect x="394" y="82.5" width="1.8" height="1.8" fill="#cfcfcf"/><circle cx="340" cy="33.4" r="2.7" fill="#161616" stroke="#5a5a5a" stroke-width="0.7"/><rect x="339.4" y="30.4" width="1.2" height="1.2" fill="#e01414"/><rect x="336.4" y="35.9" width="0.8" height="0.8" fill="#555"/><rect x="342.8" y="35.9" width="0.8" height="0.8" fill="#555"/><text x="340" y="29.4" font-size="1.9" fill="#777" text-anchor="middle" opacity="0.8">GAIN</text><circle cx="353.6" cy="33.4" r="2.7" fill="#161616" stroke="#5a5a5a" stroke-width="0.7"/><rect x="353" y="30.4" width="1.2" height="1.2" fill="#e01414"/><rect x="350" y="35.9" width="0.8" height="0.8" fill="#555"/><rect x="356.4" y="35.9" width="0.8" height="0.8" fill="#555"/><text x="353.6" y="29.4" font-size="1.9" fill="#777" text-anchor="middle" opacity="0.8">FX</text><circle cx="364.2" cy="33.4" r="2.7" fill="#161616" stroke="#5a5a5a" stroke-width="0.7"/><rect x="363.6" y="30.4" width="1.2" height="1.2" fill="#e01414"/><rect x="360.6" y="35.9" width="0.8" height="0.8" fill="#555"/><rect x="367" y="35.9" width="0.8" height="0.8" fill="#555"/><text x="364.2" y="29.4" font-size="1.9" fill="#777" text-anchor="middle" opacity="0.8">FX</text><circle cx="378.1" cy="33.4" r="2.7" fill="#161616" stroke="#5a5a5a" stroke-width="0.7"/><rect x="377.5" y="30.4" width="1.2" height="1.2" fill="#e01414"/><rect x="374.5" y="35.9" width="0.8" height="0.8" fill="#555"/><rect x="380.9" y="35.9" width="0.8" height="0.8" fill="#555"/><text x="378.1" y="29.4" font-size="1.9" fill="#777" text-anchor="middle" opacity="0.8">GAIN</text><circle cx="348.3" cy="43" r="2.7" fill="#161616" stroke="#5a5a5a" stroke-width="0.7"/><rect x="347.7" y="40" width="1.2" height="1.2" fill="#e01414"/><rect x="344.7" y="45.5" width="0.8" height="0.8" fill="#555"/><rect x="351.1" y="45.5" width="0.8" height="0.8" fill="#555"/><text x="348.3" y="39" font-size="1.9" fill="#777" text-anchor="middle" opacity="0.8">CUE</text><circle cx="358.9" cy="43" r="2.7" fill="#161616" stroke="#5a5a5a" stroke-width="0.7"/><rect x="358.3" y="40" width="1.2" height="1.2" fill="#e01414"/><rect x="355.3" y="45.5" width="0.8" height="0.8" fill="#555"/><rect x="361.7" y="45.5" width="0.8" height="0.8" fill="#555"/><text x="358.9" y="39" font-size="1.9" fill="#777" text-anchor="middle" opacity="0.8">MIX</text><circle cx="369.6" cy="43" r="2.7" fill="#161616" stroke="#5a5a5a" stroke-width="0.7"/><rect x="369" y="40" width="1.2" height="1.2" fill="#e01414"/><rect x="366" y="45.5" width="0.8" height="0.8" fill="#555"/><rect x="372.4" y="45.5" width="0.8" height="0.8" fill="#555"/><text x="369.6" y="39" font-size="1.9" fill="#777" text-anchor="middle" opacity="0.8">CUE</text><circle cx="340" cy="50.6" r="2.7" fill="#161616" stroke="#5a5a5a" stroke-width="0.7"/><rect x="339.4" y="47.6" width="1.2" height="1.2" fill="#e01414"/><rect x="336.4" y="53.1" width="0.8" height="0.8" fill="#555"/><rect x="342.8" y="53.1" width="0.8" height="0.8" fill="#555"/><circle cx="378.1" cy="50.6" r="2.7" fill="#161616" stroke="#5a5a5a" stroke-width="0.7"/><rect x="377.5" y="47.6" width="1.2" height="1.2" fill="#e01414"/><rect x="374.5" y="53.1" width="0.8" height="0.8" fill="#555"/><rect x="380.9" y="53.1" width="0.8" height="0.8" fill="#555"/><text x="333.5" y="49.6" font-size="1.9" fill="#777" opacity="0.7">HI</text><text x="384.5" y="49.6" font-size="1.9" fill="#777" opacity="0.7">HI</text><circle cx="340" cy="58.3" r="2.7" fill="#161616" stroke="#5a5a5a" stroke-width="0.7"/><rect x="339.4" y="55.3" width="1.2" height="1.2" fill="#e01414"/><rect x="336.4" y="60.8" width="0.8" height="0.8" fill="#555"/><rect x="342.8" y="60.8" width="0.8" height="0.8" fill="#555"/><circle cx="378.1" cy="58.3" r="2.7" fill="#161616" stroke="#5a5a5a" stroke-width="0.7"/><rect x="377.5" y="55.3" width="1.2" height="1.2" fill="#e01414"/><rect x="374.5" y="60.8" width="0.8" height="0.8" fill="#555"/><rect x="380.9" y="60.8" width="0.8" height="0.8" fill="#555"/><text x="333.5" y="57.3" font-size="1.9" fill="#777" opacity="0.7">MID</text><text x="384.5" y="57.3" font-size="1.9" fill="#777" opacity="0.7">MID</text><circle cx="340" cy="66" r="2.7" fill="#161616" stroke="#5a5a5a" stroke-width="0.7"/><rect x="339.4" y="63" width="1.2" height="1.2" fill="#e01414"/><rect x="336.4" y="68.5" width="0.8" height="0.8" fill="#555"/><rect x="342.8" y="68.5" width="0.8" height="0.8" fill="#555"/><circle cx="378.1" cy="66" r="2.7" fill="#161616" stroke="#5a5a5a" stroke-width="0.7"/><rect x="377.5" y="63" width="1.2" height="1.2" fill="#e01414"/><rect x="374.5" y="68.5" width="0.8" height="0.8" fill="#555"/><rect x="380.9" y="68.5" width="0.8" height="0.8" fill="#555"/><text x="333.5" y="65" font-size="1.9" fill="#777" opacity="0.7">LOW</text><text x="384.5" y="65" font-size="1.9" fill="#777" opacity="0.7">LOW</text><circle cx="340" cy="73.7" r="2.7" fill="#161616" stroke="#5a5a5a" stroke-width="0.7"/><rect x="339.4" y="70.7" width="1.2" height="1.2" fill="#e01414"/><rect x="336.4" y="76.2" width="0.8" height="0.8" fill="#555"/><rect x="342.8" y="76.2" width="0.8" height="0.8" fill="#555"/><circle cx="378.1" cy="73.7" r="2.7" fill="#161616" stroke="#5a5a5a" stroke-width="0.7"/><rect x="377.5" y="70.7" width="1.2" height="1.2" fill="#e01414"/><rect x="374.5" y="76.2" width="0.8" height="0.8" fill="#555"/><rect x="380.9" y="76.2" width="0.8" height="0.8" fill="#555"/><text x="333.5" y="72.7" font-size="1.9" fill="#777" opacity="0.7">FLT</text><text x="384.5" y="72.7" font-size="1.9" fill="#777" opacity="0.7">FLT</text><rect x="332.3" y="40.7" width="8.9" height="3.7" rx="0.8" fill="#222" stroke="#4a4a4a" stroke-width="0.5"/><rect x="334.8" y="42" width="4" height="1.1" fill="#bbb"/><rect x="377" y="40.7" width="8.9" height="3.7" rx="0.8" fill="#222" stroke="#4a4a4a" stroke-width="0.5"/><rect x="379.5" y="42" width="4" height="1.1" fill="#bbb"/><text x="345.5" y="51.2" font-size="2.6" fill="#3adf3a" textLength="27" lengthAdjust="spacingAndGlyphs">128.00   120.00  0.0</text><rect x="346.1" y="54.2" width="6.4" height="26" fill="#1c1c1c" stroke="#555" stroke-width="0.6"/><rect x="346.1" y="54.4" width="6.4" height="0.8" fill="#a02a2a"/><rect x="348.5" y="56" width="1.6" height="23" fill="#3e3e3e"/><rect x="364.8" y="54.2" width="6.4" height="26" fill="#1c1c1c" stroke="#555" stroke-width="0.6"/><rect x="364.8" y="54.4" width="6.4" height="0.8" fill="#a02a2a"/><rect x="367.2" y="56" width="1.6" height="23" fill="#3e3e3e"/><rect x="354.1" y="54.2" width="9.1" height="26" fill="#141414" stroke="#333" stroke-width="0.5"/><rect x="355" y="56" width="0.5" height="23" fill="#2a2a2a"/><rect x="356.4" y="56" width="0.5" height="23" fill="#2a2a2a"/><rect x="357.8" y="56" width="0.5" height="23" fill="#2a2a2a"/><rect x="359.2" y="56" width="0.5" height="23" fill="#2a2a2a"/><rect x="360.6" y="56" width="0.5" height="23" fill="#2a2a2a"/><rect x="362" y="56" width="0.5" height="23" fill="#2a2a2a"/><rect x="354.1" y="54.4" width="9.1" height="0.8" fill="#a02a2a"/><rect x="352" y="82.5" width="4" height="2.3" fill="#aaa"/><rect x="356.5" y="82" width="2" height="3" fill="#e03a3a"/><rect x="358.8" y="82" width="2" height="3" fill="#3a8ae0"/><rect x="361.2" y="82" width="2.2" height="3" fill="#4ac84a"/><path d="M334.8,85.3 v-1.6 a1.7,1.7 0 0 1 3.4,0 v1.6" fill="none" stroke="#ccc" stroke-width="0.6"/><path d="M379.6,85.3 v-1.6 a1.7,1.7 0 0 1 3.4,0 v1.6" fill="none" stroke="#ccc" stroke-width="0.6"/><rect x="318.5" y="87" width="80.5" height="0.7" fill="#2c2c2c"/><rect x="318.5" y="87.7" width="80.5" height="13" fill="#0d0d0d"/><rect x="321" y="90.3" width="7.5" height="5.8" rx="1.2" fill="#1e1e1e" stroke="#3a3a3a" stroke-width="0.6"/><rect x="322.8" y="92.4" width="3.9" height="1.6" fill="#ddd"/><rect x="332.8" y="90.3" width="8.5" height="5.8" rx="1.2" fill="#1e1e1e" stroke="#3a3a3a" stroke-width="0.6"/><rect x="334.6" y="92.4" width="4.9" height="1.6" fill="#ddd"/><rect x="377.6" y="90.3" width="7.4" height="5.8" rx="1.2" fill="#1e1e1e" stroke="#3a3a3a" stroke-width="0.6"/><rect x="379.4" y="92.4" width="3.8" height="1.6" fill="#ddd"/><rect x="389.8" y="90.3" width="8" height="5.8" rx="1.2" fill="#1e1e1e" stroke="#3a3a3a" stroke-width="0.6"/><rect x="391.6" y="92.4" width="4.4" height="1.6" fill="#ddd"/><rect x="343.5" y="90.5" width="30.3" height="5.5" rx="1.5" fill="#1a1a1a" stroke="#5a5a5a" stroke-width="0.6"/><rect x="345" y="92.9" width="27" height="0.6" fill="#444"/><rect x="358.4" y="89.6" width="1.2" height="7.4" fill="#c42a2a"/><rect x="229" y="87" width="89.5" height="0.7" fill="#2c2c2c"/><rect x="229" y="100.7" width="260" height="24" fill="#0c0c0c"/><rect x="246.8" y="101.6" width="55" height="20.8" fill="#131313" stroke="#2b2b2b" stroke-width="0.6"/><text x="248.1" y="104.9" font-size="2.9" fill="#2c86e6" textLength="30" lengthAdjust="spacingAndGlyphs">FLP (Bachelors) Sounds</text><text x="293.3" y="104.9" font-size="2.9" fill="#2c86e6" textLength="8" lengthAdjust="spacingAndGlyphs" text-anchor="end">0:16.00</text><rect x="294.3" y="102.3" width="0.8" height="3.5" fill="#a02020"/><rect x="247.2" y="105.8" width="45.5" height="7.6" fill="#0b0b0b" stroke="#262626" stroke-width="0.5"/><rect x="247.4" y="106" width="1" height="7.2" fill="#2fa81a"/><path d="M248.6,107.8 L249.2,107.86 L249.8,109.28 L250.4,109.13 L251,109.21 L251.6,109.34 L252.2,108.64 L252.8,109.14 L253.4,108 L254,109.09 L254.6,109.12 L255.2,109.33 L255.8,109.21 L256.4,109.1 L257,109.3 L257.6,107.72 L258.2,109.22 L258.8,109.25 L259.4,108.64 L260,109.12 L260.6,109.14 L261.2,109.09 L261.8,107.77 L262.4,109.19 L263,109.31 L263.6,109.13 L264.2,109.11 L264.8,109.23 L265.4,109.22 L266,107.89 L266.6,109.33 L267.2,109.16 L267.8,109.21 L268.4,109.2 L269,109.28 L269.6,109.2 L270.2,107.96 L270.8,107.72 L271.4,109.25 L272,109.26 L272.6,109.32 L273.2,109.14 L273.8,109.17 L274.4,107.71 L275,107.7 L275.6,109.1 L276.2,109.12 L276.8,109.24 L277.4,109.12 L278,109.32 L278.6,109.14 L279.2,108 L279.8,109.27 L280.4,109.23 L281,109.32 L281.6,109.11 L282.2,109.15 L282.8,109.27 L283.4,107.79 L284,109.33 L284.6,109.13 L284.6,110.47 L284,110.27 L283.4,111.81 L282.8,110.33 L282.2,110.45 L281.6,110.49 L281,110.28 L280.4,110.37 L279.8,110.33 L279.2,111.6 L278.6,110.46 L278,110.28 L277.4,110.48 L276.8,110.36 L276.2,110.48 L275.6,110.5 L275,111.9 L274.4,111.89 L273.8,110.43 L273.2,110.46 L272.6,110.28 L272,110.34 L271.4,110.35 L270.8,111.88 L270.2,111.64 L269.6,110.4 L269,110.32 L268.4,110.4 L267.8,110.39 L267.2,110.44 L266.6,110.27 L266,111.71 L265.4,110.38 L264.8,110.37 L264.2,110.49 L263.6,110.47 L263,110.29 L262.4,110.41 L261.8,111.83 L261.2,110.51 L260.6,110.46 L260,110.48 L259.4,110.95 L258.8,110.35 L258.2,110.38 L257.6,111.88 L257,110.3 L256.4,110.5 L255.8,110.39 L255.2,110.27 L254.6,110.48 L254,110.51 L253.4,111.6 L252.8,110.46 L252.2,110.95 L251.6,110.26 L251,110.39 L250.4,110.47 L249.8,110.32 L249.2,111.74 L248.6,111.8 Z" fill="#2a7fe0"/><rect x="286.8" y="107" width="1.4" height="1.4" fill="#3a3a3a"/><rect x="289.8" y="107" width="1.4" height="1.4" fill="#3a3a3a"/><rect x="286.8" y="110.5" width="1.4" height="1.4" fill="#3a3a3a"/><rect x="289.8" y="110.5" width="1.4" height="1.4" fill="#3a3a3a"/><circle cx="249" cy="118.3" r="2.2" fill="#1a1a1a" stroke="#333" stroke-width="0.5"/><path d="M248.3,117.1 l2,1.2 l-2,1.2 Z" fill="#ddd"/><rect x="262.3" y="116.3" width="3.4" height="4" fill="#1a1a1a" stroke="#3a3a3a" stroke-width="0.5"/><rect x="263.4" y="117.6" width="1.2" height="1.3" fill="#777"/><rect x="266.5" y="116.3" width="3.4" height="4" fill="#1a1a1a" stroke="#3a3a3a" stroke-width="0.5"/><rect x="267.6" y="117.6" width="1.2" height="1.3" fill="#777"/><rect x="270.7" y="116.3" width="3.4" height="4" fill="#1a1a1a" stroke="#3a3a3a" stroke-width="0.5"/><rect x="271.8" y="117.6" width="1.2" height="1.3" fill="#777"/><rect x="274.9" y="116.3" width="3.4" height="4" fill="#1a1a1a" stroke="#3a3a3a" stroke-width="0.5"/><rect x="276" y="117.6" width="1.2" height="1.3" fill="#777"/><rect x="279.1" y="116.3" width="3.4" height="4" fill="#1a1a1a" stroke="#3a3a3a" stroke-width="0.5"/><rect x="280.2" y="117.6" width="1.2" height="1.3" fill="#777"/><circle cx="289.8" cy="118" r="2.5" fill="#0c0c0c" stroke="#3c3c3c" stroke-width="0.6"/><rect x="289.2" y="114.6" width="1.2" height="1.2" fill="#d01010"/><rect x="297.1" y="103" width="3.2" height="18.6" rx="1" fill="#1a1a1a" stroke="#3a3a3a" stroke-width="0.6"/><rect x="296.8" y="112" width="3.8" height="0.7" fill="#b22"/><rect x="302.9" y="101.6" width="55" height="20.8" fill="#131313" stroke="#2b2b2b" stroke-width="0.6"/><text x="304.2" y="104.9" font-size="2.9" fill="#2c86e6" textLength="29" lengthAdjust="spacingAndGlyphs">DJ_Funkie_Sample_02</text><text x="349.4" y="104.9" font-size="2.9" fill="#2c86e6" textLength="8" lengthAdjust="spacingAndGlyphs" text-anchor="end">128.00</text><rect x="350.4" y="102.3" width="0.8" height="3.5" fill="#a02020"/><rect x="303.3" y="105.8" width="45.5" height="7.6" fill="#0b0b0b" stroke="#262626" stroke-width="0.5"/><rect x="303.5" y="106" width="1" height="7.2" fill="#2fa81a"/><path d="M304.7,107.97 L305.3,107.7 L305.9,109.29 L306.5,109.17 L307.1,109.11 L307.7,109.1 L308.3,109.19 L308.9,109.17 L309.5,108 L310.1,109.12 L310.7,109.26 L311.3,109.12 L311.9,109.1 L312.5,109.1 L313.1,109.16 L313.7,107.71 L314.3,109.26 L314.9,109.1 L315.5,109.3 L316.1,109.17 L316.7,109.33 L317.3,109.33 L317.9,107.85 L318.5,109.23 L319.1,109.11 L319.7,109.24 L320.3,109.26 L320.9,109.2 L321.5,109.17 L322.1,107.7 L322.7,109.25 L323.3,109.24 L323.9,109.1 L324.5,109.24 L325.1,109.11 L325.7,109.2 L326.3,107.9 L326.9,108 L327.5,109.2 L328.1,109.17 L328.7,108.64 L329.3,109.23 L329.9,109.11 L330.5,107.86 L331.1,107.83 L331.7,109.09 L332.3,109.22 L332.9,109.18 L333.5,109.14 L334.1,109.18 L334.7,109.33 L335.3,107.91 L335.9,109.29 L336.5,109.23 L337.1,109.33 L337.7,109.25 L338.3,109.28 L338.9,109.12 L339.5,107.98 L340.1,109.22 L340.7,109.25 L340.7,110.35 L340.1,110.38 L339.5,111.62 L338.9,110.48 L338.3,110.32 L337.7,110.35 L337.1,110.27 L336.5,110.37 L335.9,110.31 L335.3,111.69 L334.7,110.27 L334.1,110.42 L333.5,110.46 L332.9,110.42 L332.3,110.38 L331.7,110.51 L331.1,111.77 L330.5,111.74 L329.9,110.49 L329.3,110.37 L328.7,110.95 L328.1,110.43 L327.5,110.4 L326.9,111.6 L326.3,111.7 L325.7,110.4 L325.1,110.49 L324.5,110.36 L323.9,110.5 L323.3,110.36 L322.7,110.35 L322.1,111.9 L321.5,110.43 L320.9,110.4 L320.3,110.34 L319.7,110.36 L319.1,110.49 L318.5,110.37 L317.9,111.75 L317.3,110.27 L316.7,110.27 L316.1,110.43 L315.5,110.3 L314.9,110.5 L314.3,110.34 L313.7,111.89 L313.1,110.44 L312.5,110.5 L311.9,110.5 L311.3,110.48 L310.7,110.34 L310.1,110.48 L309.5,111.6 L308.9,110.43 L308.3,110.41 L307.7,110.5 L307.1,110.49 L306.5,110.43 L305.9,110.31 L305.3,111.9 L304.7,111.63 Z" fill="#2a7fe0"/><rect x="309.2" y="106" width="0.9" height="7.2" fill="#2fa81a"/><rect x="329.7" y="106" width="0.9" height="7.2" fill="#2fa81a"/><circle cx="343.8" cy="107.8" r="1.3" fill="#3fbf2a"/><rect x="342.9" y="107" width="1.4" height="1.4" fill="#3a3a3a"/><rect x="345.9" y="107" width="1.4" height="1.4" fill="#3a3a3a"/><rect x="342.9" y="110.5" width="1.4" height="1.4" fill="#3a3a3a"/><rect x="345.9" y="110.5" width="1.4" height="1.4" fill="#3a3a3a"/><circle cx="305.1" cy="118.3" r="2.2" fill="#1a1a1a" stroke="#333" stroke-width="0.5"/><path d="M304.4,117.1 l2,1.2 l-2,1.2 Z" fill="#ddd"/><rect x="318.4" y="116.3" width="3.4" height="4" fill="#1a1a1a" stroke="#3a3a3a" stroke-width="0.5"/><rect x="319.5" y="117.6" width="1.2" height="1.3" fill="#777"/><rect x="322.6" y="116.3" width="3.4" height="4" fill="#1a1a1a" stroke="#3a3a3a" stroke-width="0.5"/><rect x="323.7" y="117.6" width="1.2" height="1.3" fill="#777"/><rect x="326.8" y="116.3" width="3.4" height="4" fill="#1a1a1a" stroke="#3a3a3a" stroke-width="0.5"/><rect x="327.9" y="117.6" width="1.2" height="1.3" fill="#777"/><rect x="331" y="116.3" width="3.4" height="4" fill="#1a1a1a" stroke="#3a3a3a" stroke-width="0.5"/><rect x="332.1" y="117.6" width="1.2" height="1.3" fill="#777"/><rect x="335.2" y="116.3" width="3.4" height="4" fill="#1a1a1a" stroke="#3a3a3a" stroke-width="0.5"/><rect x="336.3" y="117.6" width="1.2" height="1.3" fill="#777"/><rect x="316.8" y="116.1" width="4.7" height="4.5" fill="#c80c0c"/><rect x="326.2" y="116.1" width="9.3" height="4.5" fill="#c80c0c"/><rect x="327.9" y="117.6" width="1.3" height="1.3" fill="#eaa"/><rect x="331.9" y="117.6" width="1.3" height="1.3" fill="#eaa"/><circle cx="345.9" cy="118" r="2.5" fill="#0c0c0c" stroke="#3c3c3c" stroke-width="0.6"/><rect x="345.3" y="114.6" width="1.2" height="1.2" fill="#d01010"/><rect x="353.2" y="103" width="3.2" height="18.6" rx="1" fill="#1a1a1a" stroke="#3a3a3a" stroke-width="0.6"/><rect x="352.9" y="112" width="3.8" height="0.7" fill="#b22"/><rect x="359.4" y="101.6" width="54.6" height="20.8" fill="#131313" stroke="#2b2b2b" stroke-width="0.6"/><text x="360.7" y="104.9" font-size="2.9" fill="#2c86e6" textLength="31.5" lengthAdjust="spacingAndGlyphs">BELT_Break_Bas_SynFx_01</text><text x="405.5" y="104.9" font-size="2.9" fill="#2c86e6" textLength="8" lengthAdjust="spacingAndGlyphs" text-anchor="end">01.00</text><rect x="406.5" y="102.3" width="0.8" height="3.5" fill="#a02020"/><rect x="359.8" y="105.8" width="45.1" height="7.6" fill="#0b0b0b" stroke="#262626" stroke-width="0.5"/><rect x="360" y="106" width="1" height="7.2" fill="#2fa81a"/><path d="M361.2,107.72 L361.8,107.99 L362.4,109.19 L363,109.2 L363.6,109.29 L364.2,109.28 L364.8,109.33 L365.4,109.16 L366,107.78 L366.6,108.64 L367.2,109.14 L367.8,109.17 L368.4,109.09 L369,109.15 L369.6,109.19 L370.2,107.99 L370.8,109.22 L371.4,109.19 L372,109.18 L372.6,109.29 L373.2,109.13 L373.8,109.31 L374.4,107.93 L375,109.19 L375.6,109.25 L376.2,109.27 L376.8,109.14 L377.4,109.27 L378,109.14 L378.6,107.94 L379.2,109.2 L379.8,109.19 L380.4,109.3 L381,109.32 L381.6,109.33 L382.2,109.16 L382.8,107.72 L383.4,107.7 L384,109.15 L384.6,109.09 L385.2,108.64 L385.8,109.22 L386.4,109.1 L387,107.98 L387.6,107.96 L388.2,109.2 L388.8,109.27 L389.4,109.11 L390,109.25 L390.6,109.13 L391.2,109.16 L391.8,107.75 L392.4,109.18 L393,109.26 L393.6,109.14 L394.2,109.2 L394.8,109.31 L395.4,109.25 L396,107.94 L396.6,108.64 L396.6,110.95 L396,111.66 L395.4,110.35 L394.8,110.29 L394.2,110.4 L393.6,110.46 L393,110.34 L392.4,110.42 L391.8,111.85 L391.2,110.44 L390.6,110.47 L390,110.35 L389.4,110.49 L388.8,110.33 L388.2,110.4 L387.6,111.64 L387,111.62 L386.4,110.5 L385.8,110.38 L385.2,110.95 L384.6,110.51 L384,110.45 L383.4,111.9 L382.8,111.88 L382.2,110.44 L381.6,110.27 L381,110.28 L380.4,110.3 L379.8,110.41 L379.2,110.4 L378.6,111.66 L378,110.46 L377.4,110.33 L376.8,110.46 L376.2,110.33 L375.6,110.35 L375,110.41 L374.4,111.67 L373.8,110.29 L373.2,110.47 L372.6,110.31 L372,110.42 L371.4,110.41 L370.8,110.38 L370.2,111.61 L369.6,110.41 L369,110.45 L368.4,110.51 L367.8,110.43 L367.2,110.46 L366.6,110.95 L366,111.82 L365.4,110.44 L364.8,110.27 L364.2,110.32 L363.6,110.31 L363,110.4 L362.4,110.41 L361.8,111.61 L361.2,111.88 Z" fill="#2a7fe0"/><rect x="399" y="107" width="1.4" height="1.4" fill="#3a3a3a"/><rect x="402" y="107" width="1.4" height="1.4" fill="#3a3a3a"/><rect x="399" y="110.5" width="1.4" height="1.4" fill="#3a3a3a"/><rect x="402" y="110.5" width="1.4" height="1.4" fill="#3a3a3a"/><circle cx="361.6" cy="118.3" r="2.2" fill="#1a1a1a" stroke="#333" stroke-width="0.5"/><path d="M360.9,117.1 l2,1.2 l-2,1.2 Z" fill="#ddd"/><rect x="374.9" y="116.3" width="3.4" height="4" fill="#1a1a1a" stroke="#3a3a3a" stroke-width="0.5"/><rect x="376" y="117.6" width="1.2" height="1.3" fill="#777"/><rect x="379.1" y="116.3" width="3.4" height="4" fill="#1a1a1a" stroke="#3a3a3a" stroke-width="0.5"/><rect x="380.2" y="117.6" width="1.2" height="1.3" fill="#777"/><rect x="383.3" y="116.3" width="3.4" height="4" fill="#1a1a1a" stroke="#3a3a3a" stroke-width="0.5"/><rect x="384.4" y="117.6" width="1.2" height="1.3" fill="#777"/><rect x="387.5" y="116.3" width="3.4" height="4" fill="#1a1a1a" stroke="#3a3a3a" stroke-width="0.5"/><rect x="388.6" y="117.6" width="1.2" height="1.3" fill="#777"/><rect x="391.7" y="116.3" width="3.4" height="4" fill="#1a1a1a" stroke="#3a3a3a" stroke-width="0.5"/><rect x="392.8" y="117.6" width="1.2" height="1.3" fill="#777"/><circle cx="402" cy="118" r="2.5" fill="#0c0c0c" stroke="#3c3c3c" stroke-width="0.6"/><rect x="401.4" y="114.6" width="1.2" height="1.2" fill="#d01010"/><rect x="409.3" y="103" width="3.2" height="18.6" rx="1" fill="#1a1a1a" stroke="#3a3a3a" stroke-width="0.6"/><rect x="409" y="112" width="3.8" height="0.7" fill="#b22"/><rect x="415.4" y="101.6" width="55.2" height="20.8" fill="#131313" stroke="#2b2b2b" stroke-width="0.6"/><text x="416.7" y="104.9" font-size="2.9" fill="#2c86e6" textLength="10" lengthAdjust="spacingAndGlyphs">Al_Pinar</text><text x="462.1" y="104.9" font-size="2.9" fill="#2c86e6" textLength="8" lengthAdjust="spacingAndGlyphs" text-anchor="end">127.13</text><rect x="463.1" y="102.3" width="0.8" height="3.5" fill="#a02020"/><rect x="415.8" y="105.8" width="45.7" height="7.6" fill="#0b0b0b" stroke="#262626" stroke-width="0.5"/><rect x="416" y="106" width="1" height="7.2" fill="#2fa81a"/><path d="M417.2,107.75 L417.8,107.7 L418.4,109.29 L419,109.31 L419.6,109.3 L420.2,109.16 L420.8,109.23 L421.4,109.09 L422,107.71 L422.6,109.15 L423.2,109.26 L423.8,109.32 L424.4,109.13 L425,109.26 L425.6,109.2 L426.2,107.72 L426.8,109.26 L427.4,109.32 L428,109.17 L428.6,109.13 L429.2,109.12 L429.8,109.15 L430.4,107.86 L431,109.3 L431.6,109.22 L432.2,109.09 L432.8,109.21 L433.4,109.15 L434,109.28 L434.6,107.81 L435.2,109.17 L435.8,109.14 L436.4,109.22 L437,109.27 L437.6,109.19 L438.2,109.12 L438.8,108 L439.4,107.92 L440,109.22 L440.6,109.33 L441.2,109.16 L441.8,109.2 L442.4,109.23 L443,107.92 L443.6,107.91 L444.2,109.11 L444.8,108.64 L445.4,109.27 L446,109.16 L446.6,109.18 L447.2,109.27 L447.8,107.91 L448.4,109.16 L449,109.33 L449.6,109.32 L450.2,109.13 L450.8,109.11 L451.4,109.23 L452,107.76 L452.6,109.32 L453.2,109.2 L453.2,110.4 L452.6,110.28 L452,111.84 L451.4,110.37 L450.8,110.49 L450.2,110.47 L449.6,110.28 L449,110.27 L448.4,110.44 L447.8,111.69 L447.2,110.33 L446.6,110.42 L446,110.44 L445.4,110.33 L444.8,110.95 L444.2,110.49 L443.6,111.69 L443,111.68 L442.4,110.37 L441.8,110.4 L441.2,110.44 L440.6,110.27 L440,110.38 L439.4,111.68 L438.8,111.6 L438.2,110.48 L437.6,110.41 L437,110.33 L436.4,110.38 L435.8,110.46 L435.2,110.43 L434.6,111.79 L434,110.32 L433.4,110.45 L432.8,110.39 L432.2,110.51 L431.6,110.38 L431,110.3 L430.4,111.74 L429.8,110.45 L429.2,110.48 L428.6,110.47 L428,110.43 L427.4,110.28 L426.8,110.34 L426.2,111.88 L425.6,110.4 L425,110.34 L424.4,110.47 L423.8,110.28 L423.2,110.34 L422.6,110.45 L422,111.89 L421.4,110.51 L420.8,110.37 L420.2,110.44 L419.6,110.3 L419,110.29 L418.4,110.31 L417.8,111.9 L417.2,111.85 Z" fill="#2a7fe0"/><rect x="455.6" y="107" width="1.4" height="1.4" fill="#3a3a3a"/><rect x="458.6" y="107" width="1.4" height="1.4" fill="#3a3a3a"/><rect x="455.6" y="110.5" width="1.4" height="1.4" fill="#3a3a3a"/><rect x="458.6" y="110.5" width="1.4" height="1.4" fill="#3a3a3a"/><circle cx="417.6" cy="118.3" r="2.2" fill="#1a1a1a" stroke="#333" stroke-width="0.5"/><path d="M416.9,117.1 l2,1.2 l-2,1.2 Z" fill="#ddd"/><rect x="430.9" y="116.3" width="3.4" height="4" fill="#1a1a1a" stroke="#3a3a3a" stroke-width="0.5"/><rect x="432" y="117.6" width="1.2" height="1.3" fill="#777"/><rect x="435.1" y="116.3" width="3.4" height="4" fill="#1a1a1a" stroke="#3a3a3a" stroke-width="0.5"/><rect x="436.2" y="117.6" width="1.2" height="1.3" fill="#777"/><rect x="439.3" y="116.3" width="3.4" height="4" fill="#1a1a1a" stroke="#3a3a3a" stroke-width="0.5"/><rect x="440.4" y="117.6" width="1.2" height="1.3" fill="#777"/><rect x="443.5" y="116.3" width="3.4" height="4" fill="#1a1a1a" stroke="#3a3a3a" stroke-width="0.5"/><rect x="444.6" y="117.6" width="1.2" height="1.3" fill="#777"/><rect x="447.7" y="116.3" width="3.4" height="4" fill="#1a1a1a" stroke="#3a3a3a" stroke-width="0.5"/><rect x="448.8" y="117.6" width="1.2" height="1.3" fill="#777"/><circle cx="458.6" cy="118" r="2.5" fill="#0c0c0c" stroke="#3c3c3c" stroke-width="0.6"/><rect x="458" y="114.6" width="1.2" height="1.2" fill="#d01010"/><rect x="465.9" y="103" width="3.2" height="18.6" rx="1" fill="#1a1a1a" stroke="#3a3a3a" stroke-width="0.6"/><rect x="465.6" y="112" width="3.8" height="0.7" fill="#b22"/><rect x="229" y="124.6" width="38" height="66" fill="#0b0b0b"/><rect x="229.5" y="126.2" width="8" height="3.8" fill="#161616" stroke="#3a3a3a" stroke-width="0.5"/><text x="230.3" y="129.2" font-size="2.4" fill="#777" textLength="6.2" lengthAdjust="spacingAndGlyphs">Search</text><rect x="238.5" y="126.2" width="27.5" height="3.8" fill="#111" stroke="#3a3a3a" stroke-width="0.5"/><rect x="229.5" y="132" width="36.5" height="3.9" fill="#d8cbb0"/><rect x="234" y="132.7" width="2.2" height="2.4" fill="#e0661a"/><text x="237.5" y="135" font-size="2.8" fill="#6a5a40" textLength="9" lengthAdjust="spacingAndGlyphs">Library</text><rect x="233.9" y="136.6" width="2.2" height="2.3" fill="#e0661a"/><text x="237.2" y="138.8" font-size="2.8" fill="#8c8c8c" textLength="10" lengthAdjust="spacingAndGlyphs">All Files</text><rect x="233.9" y="140.5" width="2.2" height="2.3" fill="#e0661a"/><text x="237.2" y="142.7" font-size="2.8" fill="#8c8c8c" textLength="9" lengthAdjust="spacingAndGlyphs">Playlists</text><rect x="233.9" y="144.4" width="2.2" height="2.3" fill="#e0661a"/><text x="237.2" y="146.6" font-size="2.8" fill="#8c8c8c" textLength="8" lengthAdjust="spacingAndGlyphs">Crates</text><text x="239.5" y="150.5" font-size="2.8" fill="#8c8c8c" textLength="9" lengthAdjust="spacingAndGlyphs">Dubstep</text><text x="239.5" y="154.4" font-size="2.8" fill="#8c8c8c" textLength="8" lengthAdjust="spacingAndGlyphs">Electro</text><text x="239.5" y="158.3" font-size="2.8" fill="#8c8c8c" textLength="6" lengthAdjust="spacingAndGlyphs">House</text><rect x="233.9" y="160" width="2.2" height="2.3" fill="#e0661a"/><text x="237.2" y="162.2" font-size="2.8" fill="#8c8c8c" textLength="8" lengthAdjust="spacingAndGlyphs">Artists</text><rect x="233.9" y="163.9" width="2.2" height="2.3" fill="#e0661a"/><text x="237.2" y="166.1" font-size="2.8" fill="#8c8c8c" textLength="11" lengthAdjust="spacingAndGlyphs">Recordings</text><rect x="233.9" y="167.8" width="2.2" height="2.3" fill="#e0661a"/><text x="237.2" y="170" font-size="2.8" fill="#8c8c8c" textLength="9" lengthAdjust="spacingAndGlyphs">Samples</text><rect x="233.9" y="171.7" width="2.2" height="2.3" fill="#e0661a"/><text x="237.2" y="173.9" font-size="2.8" fill="#8c8c8c" textLength="10" lengthAdjust="spacingAndGlyphs">Explorer</text><rect x="267.5" y="125.5" width="221" height="65.3" fill="#0e0e0e"/><rect x="267.5" y="125.7" width="221" height="4.2" fill="#d7ccb4"/><rect x="267.5" y="129.9" width="218.5" height="4.6" fill="#c9bb9c"/><text x="272" y="128.9" font-size="2.6" fill="#5a5040" textLength="7" lengthAdjust="spacingAndGlyphs">Played</text><text x="295" y="128.9" font-size="2.6" fill="#5a5040" textLength="6.3" lengthAdjust="spacingAndGlyphs">Artist</text><text x="344.3" y="128.9" font-size="2.6" fill="#5a5040" textLength="4.5" lengthAdjust="spacingAndGlyphs">Title</text><text x="388" y="128.9" font-size="2.6" fill="#5a5040" textLength="5.5" lengthAdjust="spacingAndGlyphs">Album</text><text x="404" y="128.9" font-size="2.6" fill="#5a5040" textLength="9" lengthAdjust="spacingAndGlyphs">Duration</text><text x="424.2" y="128.9" font-size="2.6" fill="#5a5040" textLength="7" lengthAdjust="spacingAndGlyphs">Rating</text><text x="443" y="128.9" font-size="2.6" fill="#5a5040" textLength="4.5" lengthAdjust="spacingAndGlyphs">BPM</text><text x="463" y="128.9" font-size="2.6" fill="#5a5040" textLength="4.5" lengthAdjust="spacingAndGlyphs">Year</text><text x="481" y="128.9" font-size="2.6" fill="#5a5040" textLength="6" lengthAdjust="spacingAndGlyphs">Genre</text><text x="314" y="128.4" font-size="2.6" fill="#5a5040">▾</text><rect x="268.3" y="130.5" width="2" height="2.5" fill="#e0661a"/><text x="272" y="133.3" font-size="2.8" fill="#5e5240" textLength="3" lengthAdjust="spacingAndGlyphs">01</text><text x="284.5" y="133.3" font-size="2.8" fill="#5e5240" textLength="17.5" lengthAdjust="spacingAndGlyphs">Chemical Brothers</text><text x="317.2" y="133.3" font-size="2.8" fill="#5e5240" textLength="6" lengthAdjust="spacingAndGlyphs">Muse</text><text x="377" y="133.3" font-size="2.8" fill="#5e5240" textLength="20" lengthAdjust="spacingAndGlyphs">Aurora à Bruxelles</text><text x="401" y="133.3" font-size="2.8" fill="#5e5240" textLength="5" lengthAdjust="spacingAndGlyphs">4:47</text><text x="437" y="133.3" font-size="2.8" fill="#5e5240" textLength="16" lengthAdjust="spacingAndGlyphs">97.4020000</text><text x="455" y="133.3" font-size="2.8" fill="#5e5240" textLength="6" lengthAdjust="spacingAndGlyphs">2010</text><text x="473" y="133.3" font-size="2.8" fill="#5e5240" textLength="13" lengthAdjust="spacingAndGlyphs">Electronic</text><rect x="267.5" y="134.6" width="218.5" height="4.03" fill="#151515"/><rect x="268.3" y="135.4" width="1.8" height="2.3" fill="#d06018"/><text x="272" y="137.7" font-size="2.7" fill="#7a8090" textLength="3" lengthAdjust="spacingAndGlyphs">02</text><text x="284.5" y="137.7" font-size="2.8" fill="#7a8090" textLength="21.5" lengthAdjust="spacingAndGlyphs">Chemical Brothers</text><text x="317.2" y="137.7" font-size="2.8" fill="#8a90a0" textLength="19.5" lengthAdjust="spacingAndGlyphs">Music: Response</text><text x="377" y="137.7" font-size="2.8" fill="#7a8090" textLength="12" lengthAdjust="spacingAndGlyphs">Surrender</text><text x="401" y="137.7" font-size="2.8" fill="#7a8090" textLength="7" lengthAdjust="spacingAndGlyphs">04:00</text><rect x="419.8" y="136.2" width="0.8" height="0.6" fill="#555"/><rect x="422.6" y="136.2" width="0.8" height="0.6" fill="#555"/><rect x="425.4" y="136.2" width="0.8" height="0.6" fill="#555"/><rect x="428.2" y="136.2" width="0.8" height="0.6" fill="#555"/><rect x="431" y="136.2" width="0.8" height="0.6" fill="#555"/><text x="437" y="137.7" font-size="2.8" fill="#7a8090" textLength="16" lengthAdjust="spacingAndGlyphs">120.000000</text><text x="455" y="137.7" font-size="2.8" fill="#7a8090" textLength="13" lengthAdjust="spacingAndGlyphs">Surrender</text><text x="473" y="137.7" font-size="2.8" fill="#8a7060" textLength="13" lengthAdjust="spacingAndGlyphs">Electronic</text><rect x="267.5" y="138.63" width="218.5" height="4.03" fill="#0c0c0c"/><rect x="268.3" y="139.43" width="1.8" height="2.3" fill="#d06018"/><text x="272" y="141.73" font-size="2.7" fill="#7a8090" textLength="3" lengthAdjust="spacingAndGlyphs">03</text><text x="284.5" y="141.73" font-size="2.8" fill="#7a8090" textLength="21.5" lengthAdjust="spacingAndGlyphs">Chemical Brothers</text><text x="317.2" y="141.73" font-size="2.8" fill="#8a90a0" textLength="17" lengthAdjust="spacingAndGlyphs">(It Just) Surrender</text><text x="377" y="141.73" font-size="2.8" fill="#7a8090" textLength="12" lengthAdjust="spacingAndGlyphs">Surrender</text><text x="401" y="141.73" font-size="2.8" fill="#7a8090" textLength="7" lengthAdjust="spacingAndGlyphs">05:17</text><rect x="419.5" y="139.73" width="1.6" height="1.6" fill="#cfcfcf"/><rect x="422.3" y="139.73" width="1.6" height="1.6" fill="#cfcfcf"/><rect x="425.1" y="139.73" width="1.6" height="1.6" fill="#cfcfcf"/><rect x="427.9" y="139.73" width="1.6" height="1.6" fill="#cfcfcf"/><rect x="430.7" y="139.73" width="1.6" height="1.6" fill="#cfcfcf"/><text x="437" y="141.73" font-size="2.8" fill="#7a8090" textLength="16" lengthAdjust="spacingAndGlyphs">131.100000</text><text x="455" y="141.73" font-size="2.8" fill="#7a8090" textLength="13" lengthAdjust="spacingAndGlyphs">Surrender</text><text x="473" y="141.73" font-size="2.8" fill="#8a7060" textLength="13" lengthAdjust="spacingAndGlyphs">Electronic</text><rect x="267.5" y="142.66" width="218.5" height="4.03" fill="#151515"/><rect x="268.3" y="143.46" width="1.8" height="2.3" fill="#d06018"/><text x="272" y="145.76" font-size="2.7" fill="#7a8090" textLength="3" lengthAdjust="spacingAndGlyphs">04</text><text x="284.5" y="145.76" font-size="2.8" fill="#7a8090" textLength="21.5" lengthAdjust="spacingAndGlyphs">Chemical Brothers</text><text x="317.2" y="145.76" font-size="2.8" fill="#8a90a0" textLength="17" lengthAdjust="spacingAndGlyphs">Orange Wedge</text><text x="377" y="145.76" font-size="2.8" fill="#7a8090" textLength="12" lengthAdjust="spacingAndGlyphs">Surrender</text><text x="401" y="145.76" font-size="2.8" fill="#7a8090" textLength="7" lengthAdjust="spacingAndGlyphs">06:34</text><rect x="419.5" y="143.76" width="1.6" height="1.6" fill="#cfcfcf"/><rect x="422.3" y="143.76" width="1.6" height="1.6" fill="#cfcfcf"/><rect x="425.1" y="143.76" width="1.6" height="1.6" fill="#cfcfcf"/><rect x="427.9" y="143.76" width="1.6" height="1.6" fill="#cfcfcf"/><text x="437" y="145.76" font-size="2.8" fill="#7a8090" textLength="16" lengthAdjust="spacingAndGlyphs">142.200000</text><text x="455" y="145.76" font-size="2.8" fill="#7a8090" textLength="13" lengthAdjust="spacingAndGlyphs">Surrender</text><text x="473" y="145.76" font-size="2.8" fill="#8a7060" textLength="13" lengthAdjust="spacingAndGlyphs">Electronic</text><rect x="267.5" y="146.69" width="218.5" height="4.03" fill="#0c0c0c"/><rect x="268.3" y="147.49" width="1.8" height="2.3" fill="#d06018"/><text x="272" y="149.79" font-size="2.7" fill="#7a8090" textLength="3" lengthAdjust="spacingAndGlyphs">05</text><text x="284.5" y="149.79" font-size="2.8" fill="#7a8090" textLength="21.5" lengthAdjust="spacingAndGlyphs">Chemical Brothers</text><text x="317.2" y="149.79" font-size="2.8" fill="#8a90a0" textLength="17" lengthAdjust="spacingAndGlyphs">Let Forever Be</text><text x="377" y="149.79" font-size="2.8" fill="#7a8090" textLength="12" lengthAdjust="spacingAndGlyphs">Surrender</text><text x="401" y="149.79" font-size="2.8" fill="#7a8090" textLength="7" lengthAdjust="spacingAndGlyphs">04:51</text><rect x="419.5" y="147.79" width="1.6" height="1.6" fill="#cfcfcf"/><rect x="422.3" y="147.79" width="1.6" height="1.6" fill="#cfcfcf"/><rect x="425.1" y="147.79" width="1.6" height="1.6" fill="#cfcfcf"/><rect x="427.9" y="147.79" width="1.6" height="1.6" fill="#cfcfcf"/><rect x="430.7" y="147.79" width="1.6" height="1.6" fill="#cfcfcf"/><text x="437" y="149.79" font-size="2.8" fill="#7a8090" textLength="16" lengthAdjust="spacingAndGlyphs">123.300000</text><text x="455" y="149.79" font-size="2.8" fill="#7a8090" textLength="13" lengthAdjust="spacingAndGlyphs">Surrender</text><text x="473" y="149.79" font-size="2.8" fill="#8a7060" textLength="13" lengthAdjust="spacingAndGlyphs">Electronic</text><rect x="267.5" y="150.72" width="218.5" height="4.03" fill="#151515"/><rect x="268.3" y="151.52" width="1.8" height="2.3" fill="#d06018"/><text x="272" y="153.82" font-size="2.7" fill="#7a8090" textLength="3" lengthAdjust="spacingAndGlyphs">06</text><text x="284.5" y="153.82" font-size="2.8" fill="#7a8090" textLength="21.5" lengthAdjust="spacingAndGlyphs">Chemical Brothers</text><text x="317.2" y="153.82" font-size="2.8" fill="#8a90a0" textLength="31" lengthAdjust="spacingAndGlyphs">The Sunshine Underground</text><text x="377" y="153.82" font-size="2.8" fill="#7a8090" textLength="12" lengthAdjust="spacingAndGlyphs">Surrender</text><text x="401" y="153.82" font-size="2.8" fill="#7a8090" textLength="7" lengthAdjust="spacingAndGlyphs">05:08</text><rect x="419.5" y="151.82" width="1.6" height="1.6" fill="#cfcfcf"/><rect x="422.3" y="151.82" width="1.6" height="1.6" fill="#cfcfcf"/><rect x="425.1" y="151.82" width="1.6" height="1.6" fill="#cfcfcf"/><rect x="427.9" y="151.82" width="1.6" height="1.6" fill="#cfcfcf"/><text x="437" y="153.82" font-size="2.8" fill="#7a8090" textLength="16" lengthAdjust="spacingAndGlyphs">134.400000</text><text x="455" y="153.82" font-size="2.8" fill="#7a8090" textLength="13" lengthAdjust="spacingAndGlyphs">Surrender</text><text x="473" y="153.82" font-size="2.8" fill="#8a7060" textLength="13" lengthAdjust="spacingAndGlyphs">Electronic</text><rect x="267.5" y="154.75" width="218.5" height="4.03" fill="#0c0c0c"/><text x="272" y="157.85" font-size="2.7" fill="#7a8090" textLength="3" lengthAdjust="spacingAndGlyphs">07</text><text x="284.5" y="157.85" font-size="2.8" fill="#7a8090" textLength="21.5" lengthAdjust="spacingAndGlyphs">Chemical Brothers</text><text x="317.2" y="157.85" font-size="2.8" fill="#8a90a0" textLength="20" lengthAdjust="spacingAndGlyphs">Asleep From Day</text><text x="377" y="157.85" font-size="2.8" fill="#7a8090" textLength="12" lengthAdjust="spacingAndGlyphs">Surrender</text><text x="401" y="157.85" font-size="2.8" fill="#7a8090" textLength="7" lengthAdjust="spacingAndGlyphs">06:25</text><rect x="419.8" y="156.35" width="0.8" height="0.6" fill="#555"/><rect x="422.6" y="156.35" width="0.8" height="0.6" fill="#555"/><rect x="425.4" y="156.35" width="0.8" height="0.6" fill="#555"/><rect x="428.2" y="156.35" width="0.8" height="0.6" fill="#555"/><rect x="431" y="156.35" width="0.8" height="0.6" fill="#555"/><text x="437" y="157.85" font-size="2.8" fill="#7a8090" textLength="16" lengthAdjust="spacingAndGlyphs">145.500000</text><text x="455" y="157.85" font-size="2.8" fill="#7a8090" textLength="13" lengthAdjust="spacingAndGlyphs">Surrender</text><text x="473" y="157.85" font-size="2.8" fill="#8a7060" textLength="13" lengthAdjust="spacingAndGlyphs">Electronic</text><rect x="267.5" y="158.78" width="218.5" height="4.03" fill="#151515"/><rect x="268.3" y="159.58" width="1.8" height="2.3" fill="#d06018"/><text x="272" y="161.88" font-size="2.7" fill="#7a8090" textLength="3" lengthAdjust="spacingAndGlyphs">08</text><text x="284.5" y="161.88" font-size="2.8" fill="#7a8090" textLength="21.5" lengthAdjust="spacingAndGlyphs">Chemical Brothers</text><text x="317.2" y="161.88" font-size="2.8" fill="#8a90a0" textLength="14" lengthAdjust="spacingAndGlyphs">Got Glint?</text><text x="377" y="161.88" font-size="2.8" fill="#7a8090" textLength="12" lengthAdjust="spacingAndGlyphs">Surrender</text><text x="401" y="161.88" font-size="2.8" fill="#7a8090" textLength="7" lengthAdjust="spacingAndGlyphs">04:42</text><rect x="419.8" y="160.38" width="0.8" height="0.6" fill="#555"/><rect x="422.6" y="160.38" width="0.8" height="0.6" fill="#555"/><rect x="425.4" y="160.38" width="0.8" height="0.6" fill="#555"/><rect x="428.2" y="160.38" width="0.8" height="0.6" fill="#555"/><rect x="431" y="160.38" width="0.8" height="0.6" fill="#555"/><text x="437" y="161.88" font-size="2.8" fill="#7a8090" textLength="16" lengthAdjust="spacingAndGlyphs">126.600000</text><text x="455" y="161.88" font-size="2.8" fill="#7a8090" textLength="13" lengthAdjust="spacingAndGlyphs">Surrender</text><text x="473" y="161.88" font-size="2.8" fill="#8a7060" textLength="13" lengthAdjust="spacingAndGlyphs">Electronic</text><rect x="267.5" y="162.81" width="218.5" height="4.03" fill="#0c0c0c"/><rect x="268.3" y="163.61" width="1.8" height="2.3" fill="#d06018"/><text x="272" y="165.91" font-size="2.7" fill="#7a8090" textLength="3" lengthAdjust="spacingAndGlyphs">09</text><text x="284.5" y="165.91" font-size="2.8" fill="#7a8090" textLength="21.5" lengthAdjust="spacingAndGlyphs">Chemical Brothers</text><text x="317.2" y="165.91" font-size="2.8" fill="#8a90a0" textLength="20" lengthAdjust="spacingAndGlyphs">Hey Boy Hey Girl</text><text x="377" y="165.91" font-size="2.8" fill="#7a8090" textLength="12" lengthAdjust="spacingAndGlyphs">Surrender</text><text x="401" y="165.91" font-size="2.8" fill="#7a8090" textLength="7" lengthAdjust="spacingAndGlyphs">05:59</text><rect x="419.5" y="163.91" width="1.6" height="1.6" fill="#cfcfcf"/><rect x="422.3" y="163.91" width="1.6" height="1.6" fill="#cfcfcf"/><rect x="425.1" y="163.91" width="1.6" height="1.6" fill="#cfcfcf"/><rect x="427.9" y="163.91" width="1.6" height="1.6" fill="#cfcfcf"/><rect x="430.7" y="163.91" width="1.6" height="1.6" fill="#cfcfcf"/><text x="437" y="165.91" font-size="2.8" fill="#7a8090" textLength="16" lengthAdjust="spacingAndGlyphs">137.000000</text><text x="455" y="165.91" font-size="2.8" fill="#7a8090" textLength="13" lengthAdjust="spacingAndGlyphs">Surrender</text><text x="473" y="165.91" font-size="2.8" fill="#8a7060" textLength="13" lengthAdjust="spacingAndGlyphs">Electronic</text><rect x="267.5" y="166.84" width="218.5" height="4.03" fill="#151515"/><rect x="268.3" y="167.64" width="1.8" height="2.3" fill="#d06018"/><text x="272" y="169.94" font-size="2.7" fill="#7a8090" textLength="3" lengthAdjust="spacingAndGlyphs">10</text><text x="284.5" y="169.94" font-size="2.8" fill="#7a8090" textLength="21.5" lengthAdjust="spacingAndGlyphs">Chemical Brothers</text><text x="317.2" y="169.94" font-size="2.8" fill="#8a90a0" textLength="13" lengthAdjust="spacingAndGlyphs">Surrender</text><text x="377" y="169.94" font-size="2.8" fill="#7a8090" textLength="12" lengthAdjust="spacingAndGlyphs">Surrender</text><text x="401" y="169.94" font-size="2.8" fill="#7a8090" textLength="7" lengthAdjust="spacingAndGlyphs">06:16</text><rect x="419.5" y="167.94" width="1.6" height="1.6" fill="#cfcfcf"/><rect x="422.3" y="167.94" width="1.6" height="1.6" fill="#cfcfcf"/><rect x="425.1" y="167.94" width="1.6" height="1.6" fill="#cfcfcf"/><rect x="427.9" y="167.94" width="1.6" height="1.6" fill="#cfcfcf"/><text x="437" y="169.94" font-size="2.8" fill="#7a8090" textLength="16" lengthAdjust="spacingAndGlyphs">148.100000</text><text x="455" y="169.94" font-size="2.8" fill="#7a8090" textLength="13" lengthAdjust="spacingAndGlyphs">Surrender</text><text x="473" y="169.94" font-size="2.8" fill="#8a7060" textLength="13" lengthAdjust="spacingAndGlyphs">Electronic</text><rect x="267.5" y="170.87" width="218.5" height="4.03" fill="#0c0c0c"/><text x="272" y="173.97" font-size="2.7" fill="#7a8090" textLength="3" lengthAdjust="spacingAndGlyphs">11</text><text x="284.5" y="173.97" font-size="2.8" fill="#7a8090" textLength="21.5" lengthAdjust="spacingAndGlyphs">Chemical Brothers</text><text x="317.2" y="173.97" font-size="2.8" fill="#8a90a0" textLength="11" lengthAdjust="spacingAndGlyphs">Dream On</text><text x="377" y="173.97" font-size="2.8" fill="#7a8090" textLength="12" lengthAdjust="spacingAndGlyphs">Surrender</text><text x="401" y="173.97" font-size="2.8" fill="#7a8090" textLength="7" lengthAdjust="spacingAndGlyphs">04:33</text><rect x="419.5" y="171.97" width="1.6" height="1.6" fill="#cfcfcf"/><rect x="422.3" y="171.97" width="1.6" height="1.6" fill="#cfcfcf"/><rect x="425.1" y="171.97" width="1.6" height="1.6" fill="#cfcfcf"/><rect x="427.9" y="171.97" width="1.6" height="1.6" fill="#cfcfcf"/><rect x="430.7" y="171.97" width="1.6" height="1.6" fill="#cfcfcf"/><text x="437" y="173.97" font-size="2.8" fill="#7a8090" textLength="16" lengthAdjust="spacingAndGlyphs">129.200000</text><text x="455" y="173.97" font-size="2.8" fill="#7a8090" textLength="13" lengthAdjust="spacingAndGlyphs">Surrender</text><text x="473" y="173.97" font-size="2.8" fill="#8a7060" textLength="13" lengthAdjust="spacingAndGlyphs">Electronic</text><rect x="267.5" y="174.9" width="218.5" height="4.03" fill="#151515"/><text x="272" y="178" font-size="2.7" fill="#7a8090" textLength="3" lengthAdjust="spacingAndGlyphs">12</text><text x="284.5" y="178" font-size="2.8" fill="#7a8090" textLength="21.5" lengthAdjust="spacingAndGlyphs">Chemical Brothers</text><text x="317.2" y="178" font-size="2.8" fill="#8a90a0" textLength="13" lengthAdjust="spacingAndGlyphs">Galvanize</text><text x="377" y="178" font-size="2.8" fill="#7a8090" textLength="16" lengthAdjust="spacingAndGlyphs">Come With Us</text><text x="401" y="178" font-size="2.8" fill="#7a8090" textLength="7" lengthAdjust="spacingAndGlyphs">05:50</text><rect x="419.8" y="176.5" width="0.8" height="0.6" fill="#555"/><rect x="422.6" y="176.5" width="0.8" height="0.6" fill="#555"/><rect x="425.4" y="176.5" width="0.8" height="0.6" fill="#555"/><rect x="428.2" y="176.5" width="0.8" height="0.6" fill="#555"/><rect x="431" y="176.5" width="0.8" height="0.6" fill="#555"/><text x="437" y="178" font-size="2.8" fill="#7a8090" textLength="16" lengthAdjust="spacingAndGlyphs">130.300000</text><text x="455" y="178" font-size="2.8" fill="#7a8090" textLength="13" lengthAdjust="spacingAndGlyphs">Come With</text><text x="473" y="178" font-size="2.8" fill="#8a7060" textLength="13" lengthAdjust="spacingAndGlyphs">Electronic</text><rect x="267.5" y="178.93" width="218.5" height="4.03" fill="#0c0c0c"/><text x="272" y="182.03" font-size="2.7" fill="#7a8090" textLength="3" lengthAdjust="spacingAndGlyphs">13</text><text x="284.5" y="182.03" font-size="2.8" fill="#7a8090" textLength="21.5" lengthAdjust="spacingAndGlyphs">Chemical Brothers</text><text x="317.2" y="182.03" font-size="2.8" fill="#8a90a0" textLength="17" lengthAdjust="spacingAndGlyphs">It Began in Afrika</text><text x="377" y="182.03" font-size="2.8" fill="#7a8090" textLength="16" lengthAdjust="spacingAndGlyphs">Come With Us</text><text x="401" y="182.03" font-size="2.8" fill="#7a8090" textLength="7" lengthAdjust="spacingAndGlyphs">06:07</text><rect x="419.5" y="180.03" width="1.6" height="1.6" fill="#cfcfcf"/><rect x="422.3" y="180.03" width="1.6" height="1.6" fill="#cfcfcf"/><rect x="425.1" y="180.03" width="1.6" height="1.6" fill="#cfcfcf"/><rect x="427.9" y="180.03" width="1.6" height="1.6" fill="#cfcfcf"/><rect x="430.7" y="180.03" width="1.6" height="1.6" fill="#cfcfcf"/><text x="437" y="182.03" font-size="2.8" fill="#7a8090" textLength="16" lengthAdjust="spacingAndGlyphs">141.400000</text><text x="455" y="182.03" font-size="2.8" fill="#7a8090" textLength="13" lengthAdjust="spacingAndGlyphs">Come With</text><text x="473" y="182.03" font-size="2.8" fill="#8a7060" textLength="13" lengthAdjust="spacingAndGlyphs">Electronic</text><rect x="267.5" y="182.96" width="218.5" height="4.03" fill="#151515"/><text x="272" y="186.06" font-size="2.7" fill="#7a8090" textLength="3" lengthAdjust="spacingAndGlyphs">14</text><text x="284.5" y="186.06" font-size="2.8" fill="#7a8090" textLength="21.5" lengthAdjust="spacingAndGlyphs">Chemical Brothers</text><text x="317.2" y="186.06" font-size="2.8" fill="#8a90a0" textLength="14" lengthAdjust="spacingAndGlyphs">Star Guitar</text><text x="377" y="186.06" font-size="2.8" fill="#7a8090" textLength="16" lengthAdjust="spacingAndGlyphs">Come With Us</text><text x="401" y="186.06" font-size="2.8" fill="#7a8090" textLength="7" lengthAdjust="spacingAndGlyphs">04:24</text><rect x="419.5" y="184.06" width="1.6" height="1.6" fill="#cfcfcf"/><rect x="422.3" y="184.06" width="1.6" height="1.6" fill="#cfcfcf"/><rect x="425.1" y="184.06" width="1.6" height="1.6" fill="#cfcfcf"/><rect x="427.9" y="184.06" width="1.6" height="1.6" fill="#cfcfcf"/><text x="437" y="186.06" font-size="2.8" fill="#7a8090" textLength="16" lengthAdjust="spacingAndGlyphs">122.500000</text><text x="455" y="186.06" font-size="2.8" fill="#7a8090" textLength="13" lengthAdjust="spacingAndGlyphs">Come With</text><text x="473" y="186.06" font-size="2.8" fill="#8a7060" textLength="13" lengthAdjust="spacingAndGlyphs">Electronic</text><rect x="267.5" y="187" width="221" height="3.8" fill="#ddd3bd"/><rect x="485.4" y="129.9" width="3.1" height="57.1" fill="#ddd3bd"/><rect x="486" y="134" width="1.8" height="9" fill="#bcb29c"/><g><rect x="171" y="116.3" width="27" height="10" rx="1" fill="#fbfbfb" stroke="#555" stroke-width="0.8"/><rect x="173" y="116.8" width="2.5" height="9" fill="#b4b4b4" stroke="#999" stroke-width="0.3"/><rect x="177.3" y="116.8" width="3" height="9" fill="#b4b4b4" stroke="#999" stroke-width="0.3"/><rect x="181.5" y="116.8" width="2.6" height="9" fill="#b4b4b4" stroke="#999" stroke-width="0.3"/><path d="M198,119.2 H212.5 L214.4,121 L212.5,122.8 H198 Z" fill="#777" stroke="#333" stroke-width="0.6"/><rect x="204" y="119.2" width="1.1" height="3.6" fill="#111"/><rect x="207.2" y="119.2" width="1.1" height="3.6" fill="#111"/><rect x="210.8" y="119.2" width="0.9" height="3.6" fill="#111"/></g><g transform="translate(170.1,148.9)"><path d="M0,-3.5 H3.2 V-5.5 H9.4 L12.6,-9.5 H42.7 V9.5 H12.6 L9.4,5.5 H3.2 V3.5 H0 Z" fill="#555" stroke="#222" stroke-width="0.9" stroke-linejoin="round"/><rect x="13.4" y="-6.6" width="26.1" height="12.8" fill="#4b4b4b" stroke="#333" stroke-width="0.8"/><circle cx="18.1" cy="0" r="1.7" fill="#111"/><path d="M18.1,0 H35.4 M22.5,0 C25,-1 26,-3.7 29.5,-3.7 M24.5,0 C27,1 28,3.5 32.1,3.5" fill="none" stroke="#111" stroke-width="0.7"/><circle cx="29.5" cy="-3.7" r="0.9" fill="#111"/><circle cx="32.1" cy="3.5" r="0.9" fill="#111"/><circle cx="35.4" cy="0" r="0.8" fill="#111"/><rect x="42.7" y="-7.8" width="2.4" height="1.2" fill="#bbb"/><rect x="42.7" y="6.4" width="2.4" height="1.2" fill="#bbb"/><rect x="42.7" y="-7" width="2.4" height="14" fill="#e6e6e6"/></g><g transform="translate(170.1,173.5)"><path d="M0,-3.5 H3.2 V-5.5 H9.4 L12.6,-9.5 H42.7 V9.5 H12.6 L9.4,5.5 H3.2 V3.5 H0 Z" fill="#555" stroke="#222" stroke-width="0.9" stroke-linejoin="round"/><rect x="13.4" y="-6.6" width="26.1" height="12.8" fill="#4b4b4b" stroke="#333" stroke-width="0.8"/><circle cx="18.1" cy="0" r="1.7" fill="#111"/><path d="M18.1,0 H35.4 M22.5,0 C25,-1 26,-3.7 29.5,-3.7 M24.5,0 C27,1 28,3.5 32.1,3.5" fill="none" stroke="#111" stroke-width="0.7"/><circle cx="29.5" cy="-3.7" r="0.9" fill="#111"/><circle cx="32.1" cy="3.5" r="0.9" fill="#111"/><circle cx="35.4" cy="0" r="0.8" fill="#111"/><rect x="42.7" y="-7.8" width="2.4" height="1.2" fill="#bbb"/><rect x="42.7" y="6.4" width="2.4" height="1.2" fill="#bbb"/><rect x="42.7" y="-7" width="2.4" height="14" fill="#e6e6e6"/></g><g transform="translate(575,79.9)"><path d="M0,-3.5 H3.2 V-5.5 H9.4 L12.6,-9.5 H42.7 V9.5 H12.6 L9.4,5.5 H3.2 V3.5 H0 Z" fill="#555" stroke="#222" stroke-width="0.9" stroke-linejoin="round"/><rect x="13.4" y="-6.6" width="26.1" height="12.8" fill="#4b4b4b" stroke="#333" stroke-width="0.8"/><circle cx="18.1" cy="0" r="1.7" fill="#111"/><path d="M18.1,0 H35.4 M22.5,0 C25,-1 26,-3.7 29.5,-3.7 M24.5,0 C27,1 28,3.5 32.1,3.5" fill="none" stroke="#111" stroke-width="0.7"/><circle cx="29.5" cy="-3.7" r="0.9" fill="#111"/><circle cx="32.1" cy="3.5" r="0.9" fill="#111"/><circle cx="35.4" cy="0" r="0.8" fill="#111"/><rect x="42.7" y="-7.8" width="2.4" height="1.2" fill="#bbb"/><rect x="42.7" y="6.4" width="2.4" height="1.2" fill="#bbb"/><rect x="42.7" y="-7" width="2.4" height="14" fill="#e6e6e6"/></g><path d="M632.5,13.3 H787 C795,13.3 797,19.8 806,19.8 C815,19.8 817,13.3 825,13.3 H841 Q852,13.3 852,24.3 V136 Q852,147.1 841,147.1 H632.5 Q621.3,147.1 621.3,136 V24.3 Q621.3,13.3 632.5,13.3 Z" fill="#fff" stroke="#666" stroke-width="1.1"/><ellipse cx="684.2" cy="52.4" rx="13.8" ry="7" fill="#fff" stroke="#444" stroke-width="1"/><circle cx="684.3" cy="52.3" r="4.3" fill="#fff" stroke="#444" stroke-width="1"/><ellipse cx="736" cy="89.3" rx="106.5" ry="23.8" fill="#fff" stroke="#444" stroke-width="1"/><text x="738.4" y="88.5" font-size="11.7" text-anchor="middle" fill="#222" font-family="Liberation Sans" textLength="54.2" lengthAdjust="spacingAndGlyphs">2x In/Out</text><text x="738.2" y="103.4" font-size="11.7" text-anchor="middle" fill="#222" font-family="Liberation Sans" textLength="90" lengthAdjust="spacingAndGlyphs">Audio Interface</text><path d="M712,142 V130.4 Q712,126.4 716,126.4 H747.6 Q751.6,126.4 751.6,130.4 V142" fill="none" stroke="#555" stroke-width="0.9"/><text x="732.7" y="135.3" font-size="8.8" text-anchor="middle" fill="#222" font-family="Liberation Sans" textLength="19.8" lengthAdjust="spacingAndGlyphs">Input</text><path d="M783.3,142 V130.4 Q783.3,126.4 787.3,126.4 H818.6 Q822.6,126.4 822.6,130.4 V142" fill="none" stroke="#555" stroke-width="0.9"/><text x="803.9" y="135.3" font-size="8.8" text-anchor="middle" fill="#222" font-family="Liberation Sans" textLength="25.9" lengthAdjust="spacingAndGlyphs">Output</text><g><rect x="788.4" y="147.6" width="11.5" height="3" fill="#bdbdbd" stroke="#555" stroke-width="0.6"/><path d="M787.8,150.3 H800.5 V177 Q800.5,183.5 794.15,183.5 Q787.8,183.5 787.8,177 Z" fill="#fbfbfb" stroke="#555" stroke-width="0.7"/><path d="M788.2,178.3 H800.1 Q799.5,183.5 794.15,183.5 Q788.8,183.5 788.2,178.3 Z" fill="#c4c4c4" stroke="#666" stroke-width="0.5"/><line x1="787.8" y1="162.4" x2="800.5" y2="162.4" stroke="#777" stroke-width="0.7"/><line x1="787.8" y1="171.9" x2="800.5" y2="171.9" stroke="#777" stroke-width="0.7"/><path d="M788.55,185.3 H799.75 L794.15,194 Z" fill="#111"/></g><g><rect x="806.2" y="147.6" width="11.5" height="3" fill="#bdbdbd" stroke="#555" stroke-width="0.6"/><path d="M805.6,150.3 H818.3 V177 Q818.3,183.5 811.95,183.5 Q805.6,183.5 805.6,177 Z" fill="#d40000" stroke="#555" stroke-width="0.7"/><path d="M806,178.3 H817.9 Q817.3,183.5 811.95,183.5 Q806.6,183.5 806,178.3 Z" fill="#c4c4c4" stroke="#666" stroke-width="0.5"/><line x1="805.6" y1="162.4" x2="818.3" y2="162.4" stroke="#700" stroke-width="0.7"/><line x1="805.6" y1="171.9" x2="818.3" y2="171.9" stroke="#700" stroke-width="0.7"/><path d="M806.35,185.3 H817.55 L811.95,194 Z" fill="#111"/></g><path d="M800.3,316.6 L806.3,311.4 H939.6 L943.8,316.6 Z" fill="#fff" stroke="#333" stroke-width="1"/><rect x="800.3" y="316.6" width="143.5" height="245.5" fill="#fff" stroke="#333" stroke-width="1"/><ellipse cx="921.6" cy="338.8" rx="16.2" ry="6.2" transform="rotate(45 921.6 338.8)" fill="#fff" stroke="#444" stroke-width="0.9"/><circle cx="871.2" cy="375.2" r="30.9" fill="#fff" stroke="#555" stroke-width="0.8"/><circle cx="871.2" cy="375.3" r="10.4" fill="#fff" stroke="#444" stroke-width="1.5"/><circle cx="871.2" cy="356.4" r="2.9" fill="#fff" stroke="#555" stroke-width="0.8"/><circle cx="871.2" cy="395" r="2.9" fill="#fff" stroke="#555" stroke-width="0.8"/><circle cx="851.9" cy="375.3" r="2.9" fill="#fff" stroke="#555" stroke-width="0.8"/><circle cx="891.5" cy="375.3" r="2.9" fill="#fff" stroke="#555" stroke-width="0.8"/><circle cx="871.4" cy="479" r="61.4" fill="none" stroke="#555" stroke-width="0.85"/><circle cx="871.4" cy="479" r="45.85" fill="none" stroke="#555" stroke-width="0.85"/><circle cx="871.4" cy="479" r="43.6" fill="none" stroke="#555" stroke-width="0.85"/><circle cx="871.4" cy="479" r="25.9" fill="none" stroke="#555" stroke-width="0.85"/><circle cx="871.4" cy="479" r="23.65" fill="none" stroke="#555" stroke-width="0.85"/><g><path d="M797.6,464.8 H767.5 Q762.9,464.8 762.9,470.7 Q762.9,476.6 767.5,476.6 H797.6 Z" fill="#d40000" stroke="#555" stroke-width="0.7"/><path d="M767.4,465.1 Q762.9,465.3 762.9,470.7 Q762.9,476.1 767.4,476.3 Z" fill="#c8c8c8" stroke="#666" stroke-width="0.5"/><rect x="797.6" y="465.4" width="2.6" height="10.6" fill="#bdbdbd" stroke="#555" stroke-width="0.6"/><line x1="774.6" y1="464.8" x2="774.6" y2="476.6" stroke="#700" stroke-width="0.7"/><line x1="783.8" y1="464.8" x2="783.8" y2="476.6" stroke="#700" stroke-width="0.7"/><path d="M749.2,465.3 V476.1 L758.6,470.7 Z" fill="#111"/></g><g><path d="M797.6,481.5 H767.5 Q762.9,481.5 762.9,487.4 Q762.9,493.3 767.5,493.3 H797.6 Z" fill="#fbfbfb" stroke="#555" stroke-width="0.7"/><path d="M767.4,481.8 Q762.9,482 762.9,487.4 Q762.9,492.8 767.4,493 Z" fill="#c8c8c8" stroke="#666" stroke-width="0.5"/><rect x="797.6" y="482.1" width="2.6" height="10.6" fill="#bdbdbd" stroke="#555" stroke-width="0.6"/><line x1="774.6" y1="481.5" x2="774.6" y2="493.3" stroke="#777" stroke-width="0.7"/><line x1="783.8" y1="481.5" x2="783.8" y2="493.3" stroke="#777" stroke-width="0.7"/><path d="M749.2,482 V492.8 L758.6,487.4 Z" fill="#111"/></g><g><path d="M91,409.3 H104 M104,463.5 H90 Q86.5,463.5 86.5,459.5 V420" fill="none" stroke="#444" stroke-width="0.8"/><path d="M80.6,398 L87.2,441 Q88.5,448.5 94,448 Q98.5,447 97.8,440.5 L94.3,399" fill="#fff" stroke="#444" stroke-width="0.8"/><path d="M93.6,390.5 L96.5,378.5 L97.6,371.5" fill="none" stroke="#444" stroke-width="0.8"/><circle cx="87.5" cy="395.2" r="6.8" fill="#fff" stroke="#333" stroke-width="0.95"/><circle cx="87.5" cy="395.2" r="5" fill="none" stroke="#333" stroke-width="0.9"/><path d="M84.4,382 C84.8,386 86.5,387.3 89.2,387.3 C92.5,387.3 95.5,384.5 96.1,376" fill="none" stroke="#444" stroke-width="0.8"/><path d="M98.6,342.4 L108,353.6" fill="none" stroke="#444" stroke-width="0.8"/><path d="M105,400 Q108,399 111,399.3 Q116,399.1 119,400.6 Q121,400.2 124,400.6 Q129,401.5 129.4,408 Q130.3,438 128.6,467 Q127.6,474.5 120.6,474.2 Q117,476.2 112,476.6 Q107,476.2 105,473.5 Q102.3,470 102.2,455 Q101.8,438 102.8,415 Q103.3,403 105,400 Z" fill="#fff" stroke="#444" stroke-width="0.8"/><path d="M111,399.3 Q108.5,402 108.3,415 Q107.8,440 108.8,465 Q109.3,474.5 112,476.6" fill="none" stroke="#444" stroke-width="0.8"/><path d="M119,400.6 Q116,403 115.5,415 Q114.6,440 115.6,465 Q116.2,473 120.6,474.2" fill="none" stroke="#444" stroke-width="0.8"/></g><g transform="translate(328.6,0) scale(-1,1)"><path d="M91,409.3 H104 M104,463.5 H90 Q86.5,463.5 86.5,459.5 V420" fill="none" stroke="#444" stroke-width="0.8"/><path d="M80.6,398 L87.2,441 Q88.5,448.5 94,448 Q98.5,447 97.8,440.5 L94.3,399" fill="#fff" stroke="#444" stroke-width="0.8"/><path d="M93.6,390.5 L96.5,378.5 L97.6,371.5" fill="none" stroke="#444" stroke-width="0.8"/><circle cx="87.5" cy="395.2" r="6.8" fill="#fff" stroke="#333" stroke-width="0.95"/><circle cx="87.5" cy="395.2" r="5" fill="none" stroke="#333" stroke-width="0.9"/><path d="M84.4,382 C84.8,386 86.5,387.3 89.2,387.3 C92.5,387.3 95.5,384.5 96.1,376" fill="none" stroke="#444" stroke-width="0.8"/><path d="M98.6,342.4 L108,353.6" fill="none" stroke="#444" stroke-width="0.8"/><path d="M105,400 Q108,399 111,399.3 Q116,399.1 119,400.6 Q121,400.2 124,400.6 Q129,401.5 129.4,408 Q130.3,438 128.6,467 Q127.6,474.5 120.6,474.2 Q117,476.2 112,476.6 Q107,476.2 105,473.5 Q102.3,470 102.2,455 Q101.8,438 102.8,415 Q103.3,403 105,400 Z" fill="#fff" stroke="#444" stroke-width="0.8"/><path d="M111,399.3 Q108.5,402 108.3,415 Q107.8,440 108.8,465 Q109.3,474.5 112,476.6" fill="none" stroke="#444" stroke-width="0.8"/><path d="M119,400.6 Q116,403 115.5,415 Q114.6,440 115.6,465 Q116.2,473 120.6,474.2" fill="none" stroke="#444" stroke-width="0.8"/></g><path d="M81.83,388.5 A82.7,86.6 0 0 1 246.77,388.5" fill="none" stroke="#444" stroke-width="0.8"/><path d="M84.39,382 A81,79.5 0 0 1 244.21,382" fill="none" stroke="#444" stroke-width="0.8"/><path d="M96.13,376 A71,68 0 0 1 232.47,376" fill="none" stroke="#444" stroke-width="0.8"/><rect x="231.2" y="462.5" width="5.3" height="13" rx="1.6" fill="#fff" stroke="#777" stroke-width="0.8"/><path d="M337.2,308.6 H692.9 Q696.9,308.6 696.9,312.6 V546 Q696.9,562.2 683,562.2 H616.5 C608.5,562.2 602.5,550.6 594.5,550.6 H436 C428,550.6 422,562.2 414,562.2 H347.5 Q333.2,562.2 333.2,546 V312.6 Q333.2,308.6 337.2,308.6 Z" fill="#fff" stroke="#7a7a7a" stroke-width="1"/><rect x="338.8" y="324.1" width="56.5" height="92.5" rx="4.5" fill="none" stroke="#808080" stroke-width="0.9"/><rect x="634.9" y="324.1" width="56.5" height="92.5" rx="4.5" fill="none" stroke="#808080" stroke-width="0.9"/><rect x="400.4" y="318" width="52" height="75.5" rx="4.5" fill="none" stroke="#808080" stroke-width="0.9"/><rect x="577.8" y="318" width="52" height="75.5" rx="4.5" fill="none" stroke="#808080" stroke-width="0.9"/><path d="M455.3,316.5 V546.5 M575.2,316.5 V546.5" stroke="#808080" stroke-width="1"/><rect x="356.1" y="328.4" width="20.4" height="11.4" rx="2" fill="#fff" stroke="#999" stroke-width="0.9"/><rect x="357.5" y="328.8" width="17.6" height="1.9" fill="#b2b2b2"/><rect x="357.5" y="337.5" width="17.6" height="1.9" fill="#b2b2b2"/><rect x="358.5" y="330.6" width="15.6" height="7" rx="1" fill="#fff" stroke="#9c9c9c" stroke-width="0.8"/><rect x="653.7" y="328.4" width="20.4" height="11.4" rx="2" fill="#fff" stroke="#999" stroke-width="0.9"/><rect x="655.1" y="328.8" width="17.6" height="1.9" fill="#b2b2b2"/><rect x="655.1" y="337.5" width="17.6" height="1.9" fill="#b2b2b2"/><rect x="656.1" y="330.6" width="15.6" height="7" rx="1" fill="#fff" stroke="#9c9c9c" stroke-width="0.8"/><rect x="342.2" y="380.1" width="20.4" height="11.4" rx="2" fill="#fff" stroke="#999" stroke-width="0.9"/><rect x="343.6" y="380.5" width="17.6" height="1.9" fill="#b2b2b2"/><rect x="343.6" y="389.2" width="17.6" height="1.9" fill="#b2b2b2"/><rect x="344.6" y="382.3" width="15.6" height="7" rx="1" fill="#fff" stroke="#9c9c9c" stroke-width="0.8"/><rect x="667.6" y="380.1" width="20.4" height="11.4" rx="2" fill="#fff" stroke="#999" stroke-width="0.9"/><rect x="669" y="380.5" width="17.6" height="1.9" fill="#b2b2b2"/><rect x="669" y="389.2" width="17.6" height="1.9" fill="#b2b2b2"/><rect x="670" y="382.3" width="15.6" height="7" rx="1" fill="#fff" stroke="#9c9c9c" stroke-width="0.8"/><rect x="371.6" y="380.1" width="20.4" height="11.4" rx="2" fill="#fff" stroke="#999" stroke-width="0.9"/><rect x="373" y="380.5" width="17.6" height="1.9" fill="#b2b2b2"/><rect x="373" y="389.2" width="17.6" height="1.9" fill="#b2b2b2"/><rect x="374" y="382.3" width="15.6" height="7" rx="1" fill="#fff" stroke="#9c9c9c" stroke-width="0.8"/><rect x="638.2" y="380.1" width="20.4" height="11.4" rx="2" fill="#fff" stroke="#999" stroke-width="0.9"/><rect x="639.6" y="380.5" width="17.6" height="1.9" fill="#b2b2b2"/><rect x="639.6" y="389.2" width="17.6" height="1.9" fill="#b2b2b2"/><rect x="640.6" y="382.3" width="15.6" height="7" rx="1" fill="#fff" stroke="#9c9c9c" stroke-width="0.8"/><rect x="356.1" y="402.3" width="20.4" height="11.4" rx="2" fill="#fff" stroke="#999" stroke-width="0.9"/><rect x="357.5" y="402.7" width="17.6" height="1.9" fill="#b2b2b2"/><rect x="357.5" y="411.4" width="17.6" height="1.9" fill="#b2b2b2"/><rect x="358.5" y="404.5" width="15.6" height="7" rx="1" fill="#fff" stroke="#9c9c9c" stroke-width="0.8"/><rect x="653.7" y="402.3" width="20.4" height="11.4" rx="2" fill="#fff" stroke="#999" stroke-width="0.9"/><rect x="655.1" y="402.7" width="17.6" height="1.9" fill="#b2b2b2"/><rect x="655.1" y="411.4" width="17.6" height="1.9" fill="#b2b2b2"/><rect x="656.1" y="404.5" width="15.6" height="7" rx="1" fill="#fff" stroke="#9c9c9c" stroke-width="0.8"/><rect x="416.1" y="328.2" width="20.4" height="11.4" rx="2" fill="#fff" stroke="#999" stroke-width="0.9"/><rect x="417.5" y="328.6" width="17.6" height="1.9" fill="#b2b2b2"/><rect x="417.5" y="337.3" width="17.6" height="1.9" fill="#b2b2b2"/><rect x="418.5" y="330.4" width="15.6" height="7" rx="1" fill="#fff" stroke="#9c9c9c" stroke-width="0.8"/><rect x="593.7" y="328.2" width="20.4" height="11.4" rx="2" fill="#fff" stroke="#999" stroke-width="0.9"/><rect x="595.1" y="328.6" width="17.6" height="1.9" fill="#b2b2b2"/><rect x="595.1" y="337.3" width="17.6" height="1.9" fill="#b2b2b2"/><rect x="596.1" y="330.4" width="15.6" height="7" rx="1" fill="#fff" stroke="#9c9c9c" stroke-width="0.8"/><rect x="402.3" y="350.8" width="20.4" height="11.4" rx="2" fill="#fff" stroke="#999" stroke-width="0.9"/><rect x="403.7" y="351.2" width="17.6" height="1.9" fill="#b2b2b2"/><rect x="403.7" y="359.9" width="17.6" height="1.9" fill="#b2b2b2"/><rect x="404.7" y="353" width="15.6" height="7" rx="1" fill="#fff" stroke="#9c9c9c" stroke-width="0.8"/><rect x="607.5" y="350.8" width="20.4" height="11.4" rx="2" fill="#fff" stroke="#999" stroke-width="0.9"/><rect x="608.9" y="351.2" width="17.6" height="1.9" fill="#b2b2b2"/><rect x="608.9" y="359.9" width="17.6" height="1.9" fill="#b2b2b2"/><rect x="609.9" y="353" width="15.6" height="7" rx="1" fill="#fff" stroke="#9c9c9c" stroke-width="0.8"/><rect x="429.7" y="350.8" width="20.4" height="11.4" rx="2" fill="#fff" stroke="#999" stroke-width="0.9"/><rect x="431.1" y="351.2" width="17.6" height="1.9" fill="#b2b2b2"/><rect x="431.1" y="359.9" width="17.6" height="1.9" fill="#b2b2b2"/><rect x="432.1" y="353" width="15.6" height="7" rx="1" fill="#fff" stroke="#9c9c9c" stroke-width="0.8"/><rect x="580.1" y="350.8" width="20.4" height="11.4" rx="2" fill="#fff" stroke="#999" stroke-width="0.9"/><rect x="581.5" y="351.2" width="17.6" height="1.9" fill="#b2b2b2"/><rect x="581.5" y="359.9" width="17.6" height="1.9" fill="#b2b2b2"/><rect x="582.5" y="353" width="15.6" height="7" rx="1" fill="#fff" stroke="#9c9c9c" stroke-width="0.8"/><rect x="402.3" y="373.4" width="20.4" height="11.4" rx="2" fill="#fff" stroke="#999" stroke-width="0.9"/><rect x="403.7" y="373.8" width="17.6" height="1.9" fill="#b2b2b2"/><rect x="403.7" y="382.5" width="17.6" height="1.9" fill="#b2b2b2"/><rect x="404.7" y="375.6" width="15.6" height="7" rx="1" fill="#fff" stroke="#9c9c9c" stroke-width="0.8"/><rect x="607.5" y="373.4" width="20.4" height="11.4" rx="2" fill="#fff" stroke="#999" stroke-width="0.9"/><rect x="608.9" y="373.8" width="17.6" height="1.9" fill="#b2b2b2"/><rect x="608.9" y="382.5" width="17.6" height="1.9" fill="#b2b2b2"/><rect x="609.9" y="375.6" width="15.6" height="7" rx="1" fill="#fff" stroke="#9c9c9c" stroke-width="0.8"/><rect x="429.7" y="373.4" width="20.4" height="11.4" rx="2" fill="#fff" stroke="#999" stroke-width="0.9"/><rect x="431.1" y="373.8" width="17.6" height="1.9" fill="#b2b2b2"/><rect x="431.1" y="382.5" width="17.6" height="1.9" fill="#b2b2b2"/><rect x="432.1" y="375.6" width="15.6" height="7" rx="1" fill="#fff" stroke="#9c9c9c" stroke-width="0.8"/><rect x="580.1" y="373.4" width="20.4" height="11.4" rx="2" fill="#fff" stroke="#999" stroke-width="0.9"/><rect x="581.5" y="373.8" width="17.6" height="1.9" fill="#b2b2b2"/><rect x="581.5" y="382.5" width="17.6" height="1.9" fill="#b2b2b2"/><rect x="582.5" y="375.6" width="15.6" height="7" rx="1" fill="#fff" stroke="#9c9c9c" stroke-width="0.8"/><rect x="402.3" y="402.3" width="20.4" height="11.4" rx="2" fill="#fff" stroke="#999" stroke-width="0.9"/><rect x="403.7" y="402.7" width="17.6" height="1.9" fill="#b2b2b2"/><rect x="403.7" y="411.4" width="17.6" height="1.9" fill="#b2b2b2"/><rect x="404.7" y="404.5" width="15.6" height="7" rx="1" fill="#fff" stroke="#9c9c9c" stroke-width="0.8"/><rect x="607.5" y="402.3" width="20.4" height="11.4" rx="2" fill="#fff" stroke="#999" stroke-width="0.9"/><rect x="608.9" y="402.7" width="17.6" height="1.9" fill="#b2b2b2"/><rect x="608.9" y="411.4" width="17.6" height="1.9" fill="#b2b2b2"/><rect x="609.9" y="404.5" width="15.6" height="7" rx="1" fill="#fff" stroke="#9c9c9c" stroke-width="0.8"/><rect x="429.7" y="402.3" width="20.4" height="11.4" rx="2" fill="#fff" stroke="#999" stroke-width="0.9"/><rect x="431.1" y="402.7" width="17.6" height="1.9" fill="#b2b2b2"/><rect x="431.1" y="411.4" width="17.6" height="1.9" fill="#b2b2b2"/><rect x="432.1" y="404.5" width="15.6" height="7" rx="1" fill="#fff" stroke="#9c9c9c" stroke-width="0.8"/><rect x="580.1" y="402.3" width="20.4" height="11.4" rx="2" fill="#fff" stroke="#999" stroke-width="0.9"/><rect x="581.5" y="402.7" width="17.6" height="1.9" fill="#b2b2b2"/><rect x="581.5" y="411.4" width="17.6" height="1.9" fill="#b2b2b2"/><rect x="582.5" y="404.5" width="15.6" height="7" rx="1" fill="#fff" stroke="#9c9c9c" stroke-width="0.8"/><rect x="349" y="535.6" width="20.4" height="11.4" rx="2" fill="#fff" stroke="#999" stroke-width="0.9"/><rect x="350.4" y="536" width="17.6" height="1.9" fill="#b2b2b2"/><rect x="350.4" y="544.7" width="17.6" height="1.9" fill="#b2b2b2"/><rect x="351.4" y="537.8" width="15.6" height="7" rx="1" fill="#fff" stroke="#9c9c9c" stroke-width="0.8"/><rect x="660.8" y="535.6" width="20.4" height="11.4" rx="2" fill="#fff" stroke="#999" stroke-width="0.9"/><rect x="662.2" y="536" width="17.6" height="1.9" fill="#b2b2b2"/><rect x="662.2" y="544.7" width="17.6" height="1.9" fill="#b2b2b2"/><rect x="663.2" y="537.8" width="15.6" height="7" rx="1" fill="#fff" stroke="#9c9c9c" stroke-width="0.8"/><rect x="387.1" y="535.6" width="20.4" height="11.4" rx="2" fill="#fff" stroke="#999" stroke-width="0.9"/><rect x="388.5" y="536" width="17.6" height="1.9" fill="#b2b2b2"/><rect x="388.5" y="544.7" width="17.6" height="1.9" fill="#b2b2b2"/><rect x="389.5" y="537.8" width="15.6" height="7" rx="1" fill="#fff" stroke="#9c9c9c" stroke-width="0.8"/><rect x="622.7" y="535.6" width="20.4" height="11.4" rx="2" fill="#fff" stroke="#999" stroke-width="0.9"/><rect x="624.1" y="536" width="17.6" height="1.9" fill="#b2b2b2"/><rect x="624.1" y="544.7" width="17.6" height="1.9" fill="#b2b2b2"/><rect x="625.1" y="537.8" width="15.6" height="7" rx="1" fill="#fff" stroke="#9c9c9c" stroke-width="0.8"/><rect x="491.6" y="328.5" width="20.4" height="11.4" rx="2" fill="#fff" stroke="#999" stroke-width="0.9"/><rect x="493" y="328.9" width="17.6" height="1.9" fill="#b2b2b2"/><rect x="493" y="337.6" width="17.6" height="1.9" fill="#b2b2b2"/><rect x="494" y="330.7" width="15.6" height="7" rx="1" fill="#fff" stroke="#9c9c9c" stroke-width="0.8"/><rect x="519.3" y="328.5" width="20.4" height="11.4" rx="2" fill="#fff" stroke="#999" stroke-width="0.9"/><rect x="520.7" y="328.9" width="17.6" height="1.9" fill="#b2b2b2"/><rect x="520.7" y="337.6" width="17.6" height="1.9" fill="#b2b2b2"/><rect x="521.7" y="330.7" width="15.6" height="7" rx="1" fill="#fff" stroke="#9c9c9c" stroke-width="0.8"/><rect x="505.4" y="353.4" width="20.4" height="11.4" rx="2" fill="#fff" stroke="#999" stroke-width="0.9"/><rect x="506.8" y="353.8" width="17.6" height="1.9" fill="#b2b2b2"/><rect x="506.8" y="362.5" width="17.6" height="1.9" fill="#b2b2b2"/><rect x="507.8" y="355.6" width="15.6" height="7" rx="1" fill="#fff" stroke="#9c9c9c" stroke-width="0.8"/><rect x="485.3" y="375.4" width="20.4" height="11.4" rx="2" fill="#fff" stroke="#999" stroke-width="0.9"/><rect x="486.7" y="375.8" width="17.6" height="1.9" fill="#b2b2b2"/><rect x="486.7" y="384.5" width="17.6" height="1.9" fill="#b2b2b2"/><rect x="487.7" y="377.6" width="15.6" height="7" rx="1" fill="#fff" stroke="#9c9c9c" stroke-width="0.8"/><rect x="525.3" y="375.4" width="20.4" height="11.4" rx="2" fill="#fff" stroke="#999" stroke-width="0.9"/><rect x="526.7" y="375.8" width="17.6" height="1.9" fill="#b2b2b2"/><rect x="526.7" y="384.5" width="17.6" height="1.9" fill="#b2b2b2"/><rect x="527.7" y="377.6" width="15.6" height="7" rx="1" fill="#fff" stroke="#9c9c9c" stroke-width="0.8"/><rect x="505.4" y="397.3" width="20.4" height="11.4" rx="2" fill="#fff" stroke="#999" stroke-width="0.9"/><rect x="506.8" y="397.7" width="17.6" height="1.9" fill="#b2b2b2"/><rect x="506.8" y="406.4" width="17.6" height="1.9" fill="#b2b2b2"/><rect x="507.8" y="399.5" width="15.6" height="7" rx="1" fill="#fff" stroke="#9c9c9c" stroke-width="0.8"/><rect x="460.4" y="420.9" width="20.4" height="11.4" rx="2" fill="#fff" stroke="#999" stroke-width="0.9"/><rect x="461.8" y="421.3" width="17.6" height="1.9" fill="#b2b2b2"/><rect x="461.8" y="430" width="17.6" height="1.9" fill="#b2b2b2"/><rect x="462.8" y="423.1" width="15.6" height="7" rx="1" fill="#fff" stroke="#9c9c9c" stroke-width="0.8"/><rect x="491.6" y="420.9" width="20.4" height="11.4" rx="2" fill="#fff" stroke="#999" stroke-width="0.9"/><rect x="493" y="421.3" width="17.6" height="1.9" fill="#b2b2b2"/><rect x="493" y="430" width="17.6" height="1.9" fill="#b2b2b2"/><rect x="494" y="423.1" width="15.6" height="7" rx="1" fill="#fff" stroke="#9c9c9c" stroke-width="0.8"/><rect x="519.3" y="420.9" width="20.4" height="11.4" rx="2" fill="#fff" stroke="#999" stroke-width="0.9"/><rect x="520.7" y="421.3" width="17.6" height="1.9" fill="#b2b2b2"/><rect x="520.7" y="430" width="17.6" height="1.9" fill="#b2b2b2"/><rect x="521.7" y="423.1" width="15.6" height="7" rx="1" fill="#fff" stroke="#9c9c9c" stroke-width="0.8"/><rect x="549.3" y="420.9" width="20.4" height="11.4" rx="2" fill="#fff" stroke="#999" stroke-width="0.9"/><rect x="550.7" y="421.3" width="17.6" height="1.9" fill="#b2b2b2"/><rect x="550.7" y="430" width="17.6" height="1.9" fill="#b2b2b2"/><rect x="551.7" y="423.1" width="15.6" height="7" rx="1" fill="#fff" stroke="#9c9c9c" stroke-width="0.8"/><circle cx="470.4" cy="334" r="10.3" fill="#fff" stroke="#333" stroke-width="0.8"/><circle cx="470.4" cy="334" r="6.9" fill="#fff" stroke="#333" stroke-width="0.8"/><line x1="470.4" y1="333.5" x2="470.4" y2="327.4" stroke="#222" stroke-width="1.1"/><path d="M463.65,342.04 L461.66,344.42 M461.31,339.25 L458.62,340.8 M460.06,335.82 L457.01,336.36 M460.06,332.18 L457.01,331.64 M461.31,328.75 L458.62,327.2 M463.65,325.96 L461.66,323.58 M466.81,324.13 L465.75,321.22 M470.4,323.5 L470.4,320.4 M473.99,324.13 L475.05,321.22 M477.15,325.96 L479.14,323.58 M479.49,328.75 L482.18,327.2 M480.74,332.18 L483.79,331.64 M480.74,335.82 L483.79,336.36 M479.49,339.25 L482.18,340.8 M477.15,342.04 L479.14,344.42 " stroke="#1a1a1a" stroke-width="1"/><circle cx="559.2" cy="334" r="10.3" fill="#fff" stroke="#333" stroke-width="0.8"/><circle cx="559.2" cy="334" r="6.9" fill="#fff" stroke="#333" stroke-width="0.8"/><line x1="559.2" y1="333.5" x2="559.2" y2="327.4" stroke="#222" stroke-width="1.1"/><path d="M552.45,342.04 L550.46,344.42 M550.11,339.25 L547.42,340.8 M548.86,335.82 L545.81,336.36 M548.86,332.18 L545.81,331.64 M550.11,328.75 L547.42,327.2 M552.45,325.96 L550.46,323.58 M555.61,324.13 L554.55,321.22 M559.2,323.5 L559.2,320.4 M562.79,324.13 L563.85,321.22 M565.95,325.96 L567.94,323.58 M568.29,328.75 L570.98,327.2 M569.54,332.18 L572.59,331.64 M569.54,335.82 L572.59,336.36 M568.29,339.25 L570.98,340.8 M565.95,342.04 L567.94,344.42 " stroke="#1a1a1a" stroke-width="1"/><circle cx="470.4" cy="367.7" r="10.3" fill="#fff" stroke="#333" stroke-width="0.8"/><circle cx="470.4" cy="367.7" r="6.9" fill="#fff" stroke="#333" stroke-width="0.8"/><line x1="470.4" y1="367.2" x2="470.4" y2="361.1" stroke="#222" stroke-width="1.1"/><path d="M463.65,375.74 L461.66,378.12 M461.31,372.95 L458.62,374.5 M460.06,369.52 L457.01,370.06 M460.06,365.88 L457.01,365.34 M461.31,362.45 L458.62,360.9 M463.65,359.66 L461.66,357.28 M466.81,357.83 L465.75,354.92 M470.4,357.2 L470.4,354.1 M473.99,357.83 L475.05,354.92 M477.15,359.66 L479.14,357.28 M479.49,362.45 L482.18,360.9 M480.74,365.88 L483.79,365.34 M480.74,369.52 L483.79,370.06 M479.49,372.95 L482.18,374.5 M477.15,375.74 L479.14,378.12 " stroke="#1a1a1a" stroke-width="1"/><circle cx="559.2" cy="367.7" r="10.3" fill="#fff" stroke="#333" stroke-width="0.8"/><circle cx="559.2" cy="367.7" r="6.9" fill="#fff" stroke="#333" stroke-width="0.8"/><line x1="559.2" y1="367.2" x2="559.2" y2="361.1" stroke="#222" stroke-width="1.1"/><path d="M552.45,375.74 L550.46,378.12 M550.11,372.95 L547.42,374.5 M548.86,369.52 L545.81,370.06 M548.86,365.88 L545.81,365.34 M550.11,362.45 L547.42,360.9 M552.45,359.66 L550.46,357.28 M555.61,357.83 L554.55,354.92 M559.2,357.2 L559.2,354.1 M562.79,357.83 L563.85,354.92 M565.95,359.66 L567.94,357.28 M568.29,362.45 L570.98,360.9 M569.54,365.88 L572.59,365.34 M569.54,369.52 L572.59,370.06 M568.29,372.95 L570.98,374.5 M565.95,375.74 L567.94,378.12 " stroke="#1a1a1a" stroke-width="1"/><circle cx="470.4" cy="401.6" r="10.3" fill="#fff" stroke="#333" stroke-width="0.8"/><circle cx="470.4" cy="401.6" r="6.9" fill="#fff" stroke="#333" stroke-width="0.8"/><line x1="470.4" y1="401.1" x2="470.4" y2="395" stroke="#222" stroke-width="1.1"/><path d="M463.65,409.64 L461.66,412.02 M461.31,406.85 L458.62,408.4 M460.06,403.42 L457.01,403.96 M460.06,399.78 L457.01,399.24 M461.31,396.35 L458.62,394.8 M463.65,393.56 L461.66,391.18 M466.81,391.73 L465.75,388.82 M470.4,391.1 L470.4,388 M473.99,391.73 L475.05,388.82 M477.15,393.56 L479.14,391.18 M479.49,396.35 L482.18,394.8 M480.74,399.78 L483.79,399.24 M480.74,403.42 L483.79,403.96 M479.49,406.85 L482.18,408.4 M477.15,409.64 L479.14,412.02 " stroke="#1a1a1a" stroke-width="1"/><circle cx="559.2" cy="401.6" r="10.3" fill="#fff" stroke="#333" stroke-width="0.8"/><circle cx="559.2" cy="401.6" r="6.9" fill="#fff" stroke="#333" stroke-width="0.8"/><line x1="559.2" y1="401.1" x2="559.2" y2="395" stroke="#222" stroke-width="1.1"/><path d="M552.45,409.64 L550.46,412.02 M550.11,406.85 L547.42,408.4 M548.86,403.42 L545.81,403.96 M548.86,399.78 L545.81,399.24 M550.11,396.35 L547.42,394.8 M552.45,393.56 L550.46,391.18 M555.61,391.73 L554.55,388.82 M559.2,391.1 L559.2,388 M562.79,391.73 L563.85,388.82 M565.95,393.56 L567.94,391.18 M568.29,396.35 L570.98,394.8 M569.54,399.78 L572.59,399.24 M569.54,403.42 L572.59,403.96 M568.29,406.85 L570.98,408.4 M565.95,409.64 L567.94,412.02 " stroke="#1a1a1a" stroke-width="1"/><circle cx="365.8" cy="358.6" r="10.3" fill="#fff" stroke="#333" stroke-width="0.8"/><circle cx="365.8" cy="358.6" r="6.9" fill="#fff" stroke="#333" stroke-width="0.8"/><line x1="365.8" y1="358.1" x2="365.8" y2="352" stroke="#222" stroke-width="1.1"/><path d="M359.05,366.64 L357.06,369.02 M356.71,363.85 L354.02,365.4 M355.46,360.42 L352.41,360.96 M355.46,356.78 L352.41,356.24 M356.71,353.35 L354.02,351.8 M359.05,350.56 L357.06,348.18 M362.21,348.73 L361.15,345.82 M365.8,348.1 L365.8,345 M369.39,348.73 L370.45,345.82 M372.55,350.56 L374.54,348.18 M374.89,353.35 L377.58,351.8 M376.14,356.78 L379.19,356.24 M376.14,360.42 L379.19,360.96 M374.89,363.85 L377.58,365.4 M372.55,366.64 L374.54,369.02 " stroke="#1a1a1a" stroke-width="1"/><circle cx="664" cy="358.7" r="10.3" fill="#fff" stroke="#333" stroke-width="0.8"/><circle cx="664" cy="358.7" r="6.9" fill="#fff" stroke="#333" stroke-width="0.8"/><line x1="664" y1="358.2" x2="664" y2="352.1" stroke="#222" stroke-width="1.1"/><path d="M657.25,366.74 L655.26,369.12 M654.91,363.95 L652.22,365.5 M653.66,360.52 L650.61,361.06 M653.66,356.88 L650.61,356.34 M654.91,353.45 L652.22,351.9 M657.25,350.66 L655.26,348.28 M660.41,348.83 L659.35,345.92 M664,348.2 L664,345.1 M667.59,348.83 L668.65,345.92 M670.75,350.66 L672.74,348.28 M673.09,353.45 L675.78,351.9 M674.34,356.88 L677.39,356.34 M674.34,360.52 L677.39,361.06 M673.09,363.95 L675.78,365.5 M670.75,366.74 L672.74,369.12 " stroke="#1a1a1a" stroke-width="1"/><circle cx="400" cy="477.5" r="50.4" fill="#fff" stroke="#222" stroke-width="1.2"/><circle cx="400" cy="477.5" r="40.3" fill="#fff" stroke="#555" stroke-width="0.9"/><g fill="none" stroke="#555" stroke-width="0.75"><rect x="398.7" y="429" width="2.6" height="7" rx="1.3" transform="rotate(-7 400 477.5)"/><rect x="398.7" y="429" width="2.6" height="7" rx="1.3" transform="rotate(9.36 400 477.5)"/><rect x="398.7" y="429" width="2.6" height="7" rx="1.3" transform="rotate(25.73 400 477.5)"/><rect x="398.7" y="429" width="2.6" height="7" rx="1.3" transform="rotate(42.09 400 477.5)"/><rect x="398.7" y="429" width="2.6" height="7" rx="1.3" transform="rotate(58.45 400 477.5)"/><rect x="398.7" y="429" width="2.6" height="7" rx="1.3" transform="rotate(74.82 400 477.5)"/><rect x="398.7" y="429" width="2.6" height="7" rx="1.3" transform="rotate(91.18 400 477.5)"/><rect x="398.7" y="429" width="2.6" height="7" rx="1.3" transform="rotate(107.55 400 477.5)"/><rect x="398.7" y="429" width="2.6" height="7" rx="1.3" transform="rotate(123.91 400 477.5)"/><rect x="398.7" y="429" width="2.6" height="7" rx="1.3" transform="rotate(140.27 400 477.5)"/><rect x="398.7" y="429" width="2.6" height="7" rx="1.3" transform="rotate(156.64 400 477.5)"/><rect x="398.7" y="429" width="2.6" height="7" rx="1.3" transform="rotate(173 400 477.5)"/><rect x="398.7" y="429" width="2.6" height="7" rx="1.3" transform="rotate(189.36 400 477.5)"/><rect x="398.7" y="429" width="2.6" height="7" rx="1.3" transform="rotate(205.73 400 477.5)"/><rect x="398.7" y="429" width="2.6" height="7" rx="1.3" transform="rotate(222.09 400 477.5)"/><rect x="398.7" y="429" width="2.6" height="7" rx="1.3" transform="rotate(238.45 400 477.5)"/><rect x="398.7" y="429" width="2.6" height="7" rx="1.3" transform="rotate(254.82 400 477.5)"/><rect x="398.7" y="429" width="2.6" height="7" rx="1.3" transform="rotate(271.18 400 477.5)"/><rect x="398.7" y="429" width="2.6" height="7" rx="1.3" transform="rotate(287.55 400 477.5)"/><rect x="398.7" y="429" width="2.6" height="7" rx="1.3" transform="rotate(303.91 400 477.5)"/><rect x="398.7" y="429" width="2.6" height="7" rx="1.3" transform="rotate(320.27 400 477.5)"/><rect x="398.7" y="429" width="2.6" height="7" rx="1.3" transform="rotate(336.64 400 477.5)"/></g><circle cx="630.4" cy="477.5" r="50.4" fill="#fff" stroke="#222" stroke-width="1.2"/><circle cx="630.4" cy="477.5" r="40.3" fill="#fff" stroke="#555" stroke-width="0.9"/><g fill="none" stroke="#555" stroke-width="0.75"><rect x="629.1" y="429" width="2.6" height="7" rx="1.3" transform="rotate(-7 630.4 477.5)"/><rect x="629.1" y="429" width="2.6" height="7" rx="1.3" transform="rotate(9.36 630.4 477.5)"/><rect x="629.1" y="429" width="2.6" height="7" rx="1.3" transform="rotate(25.73 630.4 477.5)"/><rect x="629.1" y="429" width="2.6" height="7" rx="1.3" transform="rotate(42.09 630.4 477.5)"/><rect x="629.1" y="429" width="2.6" height="7" rx="1.3" transform="rotate(58.45 630.4 477.5)"/><rect x="629.1" y="429" width="2.6" height="7" rx="1.3" transform="rotate(74.82 630.4 477.5)"/><rect x="629.1" y="429" width="2.6" height="7" rx="1.3" transform="rotate(91.18 630.4 477.5)"/><rect x="629.1" y="429" width="2.6" height="7" rx="1.3" transform="rotate(107.55 630.4 477.5)"/><rect x="629.1" y="429" width="2.6" height="7" rx="1.3" transform="rotate(123.91 630.4 477.5)"/><rect x="629.1" y="429" width="2.6" height="7" rx="1.3" transform="rotate(140.27 630.4 477.5)"/><rect x="629.1" y="429" width="2.6" height="7" rx="1.3" transform="rotate(156.64 630.4 477.5)"/><rect x="629.1" y="429" width="2.6" height="7" rx="1.3" transform="rotate(173 630.4 477.5)"/><rect x="629.1" y="429" width="2.6" height="7" rx="1.3" transform="rotate(189.36 630.4 477.5)"/><rect x="629.1" y="429" width="2.6" height="7" rx="1.3" transform="rotate(205.73 630.4 477.5)"/><rect x="629.1" y="429" width="2.6" height="7" rx="1.3" transform="rotate(222.09 630.4 477.5)"/><rect x="629.1" y="429" width="2.6" height="7" rx="1.3" transform="rotate(238.45 630.4 477.5)"/><rect x="629.1" y="429" width="2.6" height="7" rx="1.3" transform="rotate(254.82 630.4 477.5)"/><rect x="629.1" y="429" width="2.6" height="7" rx="1.3" transform="rotate(271.18 630.4 477.5)"/><rect x="629.1" y="429" width="2.6" height="7" rx="1.3" transform="rotate(287.55 630.4 477.5)"/><rect x="629.1" y="429" width="2.6" height="7" rx="1.3" transform="rotate(303.91 630.4 477.5)"/><rect x="629.1" y="429" width="2.6" height="7" rx="1.3" transform="rotate(320.27 630.4 477.5)"/><rect x="629.1" y="429" width="2.6" height="7" rx="1.3" transform="rotate(336.64 630.4 477.5)"/></g><path d="M473.4,444.6 V510.6 M556.4,444.6 V510.6 M482,530.9 H548.4" stroke="#111" stroke-width="1.7"/><rect x="461.1" y="471.2" width="24.6" height="12.8" fill="#fafafa" stroke="#8a8a8a" stroke-width="0.8"/><path d="M461.1,475.2 h24.6 M461.1,479.2 h24.6" stroke="#999" stroke-width="0.7"/><path d="M461.1,477.2 h24.6" stroke="#555" stroke-width="0.8"/><rect x="544.1" y="471.2" width="24.6" height="12.8" fill="#fafafa" stroke="#8a8a8a" stroke-width="0.8"/><path d="M544.1,475.2 h24.6 M544.1,479.2 h24.6" stroke="#999" stroke-width="0.7"/><path d="M544.1,477.2 h24.6" stroke="#555" stroke-width="0.8"/><rect x="508.6" y="518.9" width="13.3" height="24.6" fill="#fafafa" stroke="#8a8a8a" stroke-width="0.8"/><path d="M512.6,518.9 v24.6 M517.4,518.9 v24.6" stroke="#999" stroke-width="0.7"/><path d="M515,518.9 v24.6" stroke="#555" stroke-width="0.8"/><g transform="translate(366.8,265.9) rotate(90)"><path d="M0,-4 H3.5 V-6.6 H9.5 L12.6,-10.35 H42.5 V10.35 H12.6 L9.5,6.6 H3.5 V4 H0 Z" fill="#555" stroke="#222" stroke-width="0.9" stroke-linejoin="round"/><rect x="13.4" y="-6.3" width="26.6" height="12.6" fill="#4b4b4b" stroke="#333" stroke-width="0.8"/><circle cx="18.5" cy="0" r="1.7" fill="#111"/><path d="M18.5,0 H35.4 M22.5,0 C25,-1 26,-3.7 29.5,-3.7 M24.5,0 C27,1 28,3.5 32.1,3.5" fill="none" stroke="#111" stroke-width="0.7"/><circle cx="29.5" cy="-3.7" r="0.9" fill="#111"/><circle cx="32.1" cy="3.5" r="0.9" fill="#111"/><circle cx="35.4" cy="0" r="0.8" fill="#111"/></g></svg>
</body></html>
